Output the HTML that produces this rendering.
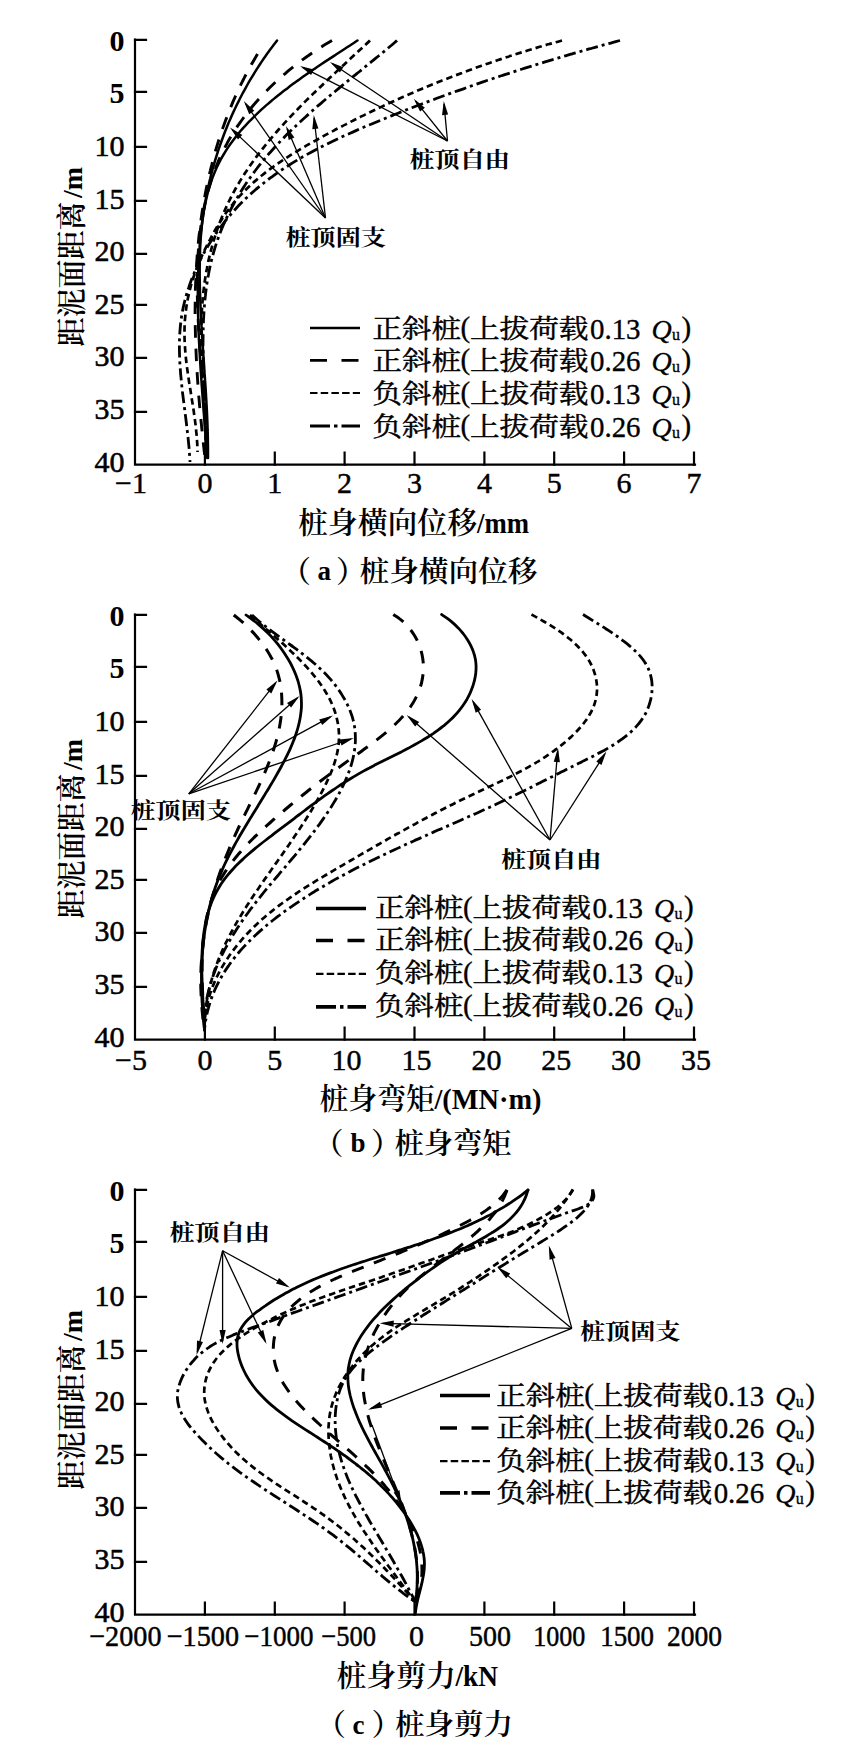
<!DOCTYPE html>
<html lang="zh"><head><meta charset="utf-8"><title>桩身响应曲线</title>
<style>
html,body{margin:0;padding:0;background:#fff}
svg{display:block}
text{font-family:"Liberation Serif", "Noto Serif CJK SC", serif;fill:#000}
path{fill:none;stroke:#000}
.ax{stroke-width:2.2;stroke-linecap:square}
.s0{stroke-width:2.5;stroke-linecap:round}
.s1{stroke-width:2.9;stroke-dasharray:12.5 11}
.s2{stroke-width:2.7;stroke-dasharray:6.5 4}
.s3{stroke-width:2.8;stroke-dasharray:12 4 3 4}
.l0{stroke-width:3}
.l1{stroke-width:3.3;stroke-dasharray:17 14.5}
.l2{stroke-width:2.2;stroke-dasharray:7.5 3.2}
.l3{stroke-width:3.4;stroke-dasharray:20 4 3.5 4}
.ca .l0{stroke-width:2.4}
.ca .l1{stroke-width:2.8}
.ca .l2{stroke-width:2}
.ca .l3{stroke-width:3.2}
.cb .l0{stroke-width:3.5}
.cb .l1{stroke-width:3.7}
.cb .l3{stroke-width:3.7}
.cb .s0{stroke-width:2.8}
.cb .s1{stroke-width:3}
.al{stroke-width:1.3}
.ah{fill:#000;stroke:none}
.yl{font-weight:700}
.ym{font-weight:400;stroke:#000;stroke-width:.55}
.xl{font-weight:400;stroke:#000;stroke-width:.45}
.tt{font-weight:600}
.ttl{font-weight:700}
.cp{font-weight:600}
.lg{font-weight:400;stroke:#000;stroke-width:.45}
.lgl{font-weight:400;stroke:#000;stroke-width:.35}
.lgi{font-style:italic;font-weight:400;stroke:#000;stroke-width:.3}
.lgu{font-weight:400;stroke:#000;stroke-width:.3}
.lb{font-weight:700}
</style></head>
<body>
<svg width="856" height="1751" viewBox="0 0 856 1751">
<rect width="856" height="1751" fill="#fff" stroke="none"/>
<g class="ca">
<path class="ax" d="M135.0 39.7 V464.7 H695.0"/>
<path class="ax" d="M135.0 39.8 h11M135.0 91.8 h11M135.0 146.8 h11M135.0 200.9 h11M135.0 253.8 h11M135.0 304.9 h11M135.0 357.8 h11M135.0 411.8 h11M204.9 464.7 v-12M274.8 464.7 v-12M344.6 464.7 v-12M414.5 464.7 v-12M484.4 464.7 v-12M554.2 464.7 v-12M624.1 464.7 v-12M694.0 464.7 v-12"/>
<text x="124.5" y="50.7" font-size="30" text-anchor="end" class="yl">0</text>
<text x="124.5" y="103.3" font-size="30" text-anchor="end" class="yl">5</text>
<text x="124.5" y="155.9" font-size="30" text-anchor="end" class="ym">10</text>
<text x="124.5" y="208.5" font-size="30" text-anchor="end" class="ym">15</text>
<text x="124.5" y="261.1" font-size="30" text-anchor="end" class="ym">20</text>
<text x="124.5" y="313.7" font-size="30" text-anchor="end" class="ym">25</text>
<text x="124.5" y="366.3" font-size="30" text-anchor="end" class="ym">30</text>
<text x="124.5" y="418.9" font-size="30" text-anchor="end" class="ym">35</text>
<text x="124.5" y="471.5" font-size="30" text-anchor="end" class="ym">40</text>
<text x="131.0" y="493.0" font-size="30" text-anchor="middle" class="xl">−1</text>
<text x="204.9" y="493.0" font-size="30" text-anchor="middle" class="xl">0</text>
<text x="274.8" y="493.0" font-size="30" text-anchor="middle" class="xl">1</text>
<text x="344.6" y="493.0" font-size="30" text-anchor="middle" class="xl">2</text>
<text x="414.5" y="493.0" font-size="30" text-anchor="middle" class="xl">3</text>
<text x="484.4" y="493.0" font-size="30" text-anchor="middle" class="xl">4</text>
<text x="554.2" y="493.0" font-size="30" text-anchor="middle" class="xl">5</text>
<text x="624.1" y="493.0" font-size="30" text-anchor="middle" class="xl">6</text>
<text x="694.0" y="493.0" font-size="30" text-anchor="middle" class="xl">7</text>
<text transform="translate(81.5 346.5) rotate(-90)" font-size="29.5" class="tt" textLength="145" lengthAdjust="spacingAndGlyphs">距泥面距离</text>
<text transform="translate(81.5 198.0) rotate(-90)" font-size="28" class="ttl">/m</text>
<path class="s0" d="M277.0 40.5C276.3 41.5 274.1 44.3 272.7 46.2C271.2 48.1 269.8 50.0 268.4 52.0C267.0 53.9 265.7 55.8 264.3 57.8C263.0 59.7 261.7 61.7 260.3 63.7C259.0 65.6 257.8 67.6 256.5 69.6C255.2 71.6 254.0 73.6 252.8 75.6C251.5 77.7 250.3 79.7 249.1 81.7C248.0 83.7 246.8 85.8 245.7 87.8C244.5 89.9 243.4 92.0 242.3 94.0C241.2 96.1 240.1 98.2 239.1 100.3C238.0 102.3 237.0 104.4 236.0 106.5C235.0 108.7 234.0 110.8 233.0 112.9C232.0 115.0 231.1 117.1 230.2 119.3C229.2 121.4 228.3 123.5 227.4 125.7C226.6 127.9 225.7 130.0 224.8 132.2C224.0 134.3 223.2 136.5 222.4 138.7C221.6 140.9 220.8 143.1 220.0 145.3C219.3 147.4 218.5 149.6 217.8 151.9C217.1 154.1 216.4 156.3 215.7 158.5C215.0 160.7 214.4 162.9 213.8 165.2C213.1 167.4 212.5 169.6 211.9 171.9C211.3 174.1 210.7 176.4 210.2 178.6C209.6 180.9 209.1 183.1 208.6 185.4C208.1 187.6 207.6 189.9 207.1 192.2C206.7 194.4 206.2 196.7 205.8 199.0C205.4 201.3 205.0 203.5 204.6 205.8C204.2 208.1 203.8 210.4 203.5 212.7C203.1 215.0 202.8 217.3 202.5 219.6C202.2 221.9 201.9 224.2 201.6 226.5C201.3 228.8 201.1 231.1 200.8 233.4C200.6 235.8 200.4 238.1 200.1 240.4C199.9 242.7 199.7 245.0 199.6 247.4C199.4 249.7 199.2 252.0 199.1 254.4C198.9 256.7 198.8 259.0 198.7 261.4C198.6 263.7 198.4 266.0 198.4 268.4C198.3 270.7 198.2 273.1 198.1 275.4C198.0 277.7 198.0 280.1 198.0 282.4C197.9 284.8 197.9 287.1 197.9 289.5C197.8 291.8 197.8 294.2 197.8 296.5C197.9 298.9 197.9 301.3 197.9 303.6C197.9 306.0 198.0 308.3 198.0 310.7C198.0 313.0 198.1 315.4 198.2 317.7C198.2 320.1 198.3 322.5 198.4 324.8C198.4 327.2 198.5 329.5 198.6 331.9C198.7 334.3 198.8 336.6 198.9 339.0C199.0 341.3 199.2 343.7 199.3 346.0C199.4 348.4 199.5 350.8 199.7 353.1C199.8 355.5 199.9 357.8 200.1 360.2C200.2 362.5 200.4 364.9 200.5 367.3C200.7 369.6 200.8 372.0 201.0 374.3C201.1 376.7 201.3 379.0 201.5 381.4C201.6 383.7 201.8 386.1 202.0 388.4C202.1 390.7 202.3 393.1 202.5 395.4C202.7 397.8 202.8 400.1 203.0 402.4C203.2 404.8 203.4 407.1 203.5 409.4C203.7 411.8 203.9 414.1 204.1 416.4C204.2 418.8 204.4 421.1 204.6 423.4C204.8 425.7 204.9 428.0 205.1 430.4C205.3 432.7 205.5 435.0 205.6 437.3C205.8 439.6 205.9 441.9 206.1 444.2C206.3 446.5 206.4 448.8 206.6 451.1C206.7 453.4 206.9 456.8 207.0 458.0"/>
<path class="s0" d="M357.5 40.5C356.5 41.1 353.7 43.0 351.8 44.2C349.9 45.5 348.0 46.7 346.0 48.0C344.1 49.2 342.2 50.5 340.2 51.8C338.3 53.0 336.4 54.3 334.4 55.6C332.5 56.8 330.5 58.1 328.6 59.4C326.6 60.7 324.6 62.0 322.7 63.3C320.7 64.6 318.8 65.9 316.8 67.2C314.9 68.6 312.9 69.9 311.0 71.2C309.0 72.6 307.0 73.9 305.1 75.3C303.2 76.6 301.2 78.0 299.3 79.4C297.4 80.8 295.4 82.2 293.5 83.6C291.6 85.0 289.7 86.4 287.8 87.9C285.9 89.3 284.0 90.8 282.1 92.2C280.2 93.7 278.4 95.2 276.5 96.7C274.7 98.2 272.8 99.7 271.0 101.3C269.2 102.8 267.4 104.4 265.6 105.9C263.8 107.5 262.0 109.1 260.3 110.7C258.6 112.3 256.8 114.0 255.1 115.6C253.4 117.3 251.7 118.9 250.1 120.6C248.4 122.3 246.8 124.0 245.2 125.8C243.6 127.5 242.1 129.3 240.5 131.0C239.0 132.8 237.5 134.6 236.1 136.4C234.6 138.3 233.2 140.1 231.9 142.0C230.5 143.8 229.2 145.7 227.9 147.6C226.6 149.6 225.4 151.5 224.2 153.5C223.0 155.4 221.9 157.4 220.8 159.4C219.7 161.4 218.7 163.5 217.7 165.5C216.7 167.6 215.8 169.6 214.9 171.8C214.0 173.9 213.2 176.0 212.4 178.1C211.6 180.3 210.9 182.4 210.2 184.6C209.5 186.8 208.9 189.0 208.2 191.2C207.6 193.4 207.1 195.7 206.5 197.9C206.0 200.2 205.5 202.4 205.1 204.7C204.6 207.0 204.2 209.3 203.8 211.6C203.4 213.9 203.1 216.2 202.8 218.5C202.4 220.8 202.1 223.1 201.9 225.5C201.6 227.8 201.4 230.2 201.2 232.5C201.0 234.9 200.8 237.2 200.6 239.6C200.5 242.0 200.4 244.3 200.2 246.7C200.1 249.1 200.0 251.5 200.0 253.8C199.9 256.2 199.8 258.6 199.8 261.0C199.8 263.3 199.7 265.7 199.7 268.1C199.7 270.5 199.7 272.9 199.7 275.2C199.7 277.6 199.8 280.0 199.8 282.3C199.8 284.7 199.9 287.1 199.9 289.4C200.0 291.8 200.1 294.1 200.2 296.5C200.2 298.9 200.3 301.2 200.4 303.6C200.5 305.9 200.6 308.3 200.7 310.6C200.8 313.0 200.9 315.3 201.1 317.7C201.2 320.0 201.3 322.4 201.4 324.7C201.6 327.1 201.7 329.4 201.8 331.8C202.0 334.1 202.1 336.5 202.3 338.8C202.4 341.1 202.6 343.5 202.7 345.8C202.9 348.2 203.1 350.5 203.2 352.8C203.4 355.2 203.5 357.5 203.7 359.8C203.9 362.2 204.0 364.5 204.2 366.9C204.3 369.2 204.5 371.5 204.6 373.9C204.8 376.2 205.0 378.5 205.1 380.9C205.3 383.2 205.4 385.5 205.6 387.9C205.7 390.2 205.9 392.5 206.0 394.9C206.1 397.2 206.3 399.5 206.4 401.9C206.5 404.2 206.7 406.5 206.8 408.9C206.9 411.2 207.0 413.5 207.1 415.9C207.2 418.2 207.3 420.5 207.4 422.9C207.5 425.2 207.6 427.6 207.6 429.9C207.7 432.2 207.8 434.6 207.8 436.9C207.9 439.3 207.9 441.6 207.9 443.9C208.0 446.3 208.0 448.6 208.0 451.0C208.0 453.3 208.0 456.8 208.0 458.0"/>
<path class="s1" d="M257.5 54.0C256.9 55.0 255.1 58.1 253.9 60.2C252.7 62.2 251.5 64.3 250.4 66.4C249.2 68.5 248.1 70.6 247.0 72.7C245.8 74.8 244.7 76.9 243.7 79.0C242.6 81.1 241.6 83.2 240.5 85.3C239.5 87.5 238.5 89.6 237.5 91.7C236.5 93.9 235.5 96.0 234.6 98.2C233.6 100.3 232.7 102.5 231.8 104.6C230.9 106.8 230.0 108.9 229.1 111.1C228.3 113.3 227.4 115.5 226.6 117.7C225.8 119.8 225.0 122.0 224.2 124.2C223.4 126.4 222.6 128.6 221.8 130.8C221.1 133.0 220.3 135.2 219.6 137.5C218.9 139.7 218.2 141.9 217.5 144.1C216.8 146.4 216.2 148.6 215.5 150.8C214.9 153.1 214.3 155.3 213.6 157.5C213.0 159.8 212.4 162.0 211.9 164.3C211.3 166.5 210.7 168.8 210.2 171.1C209.6 173.3 209.1 175.6 208.6 177.9C208.1 180.1 207.6 182.4 207.1 184.7C206.6 187.0 206.2 189.3 205.7 191.5C205.3 193.8 204.9 196.1 204.4 198.4C204.0 200.7 203.6 203.0 203.2 205.3C202.9 207.6 202.5 209.9 202.1 212.2C201.8 214.5 201.5 216.8 201.1 219.1C200.8 221.4 200.5 223.8 200.2 226.1C199.9 228.4 199.6 230.7 199.4 233.0C199.1 235.4 198.8 237.7 198.6 240.0C198.4 242.3 198.1 244.7 197.9 247.0C197.7 249.3 197.5 251.7 197.3 254.0C197.1 256.3 197.0 258.7 196.8 261.0C196.6 263.4 196.5 265.7 196.4 268.1C196.2 270.4 196.1 272.7 196.0 275.1C195.9 277.4 195.8 279.8 195.7 282.1C195.6 284.5 195.5 286.8 195.4 289.2C195.4 291.5 195.3 293.9 195.3 296.2C195.2 298.6 195.2 301.0 195.2 303.3C195.1 305.7 195.1 308.0 195.1 310.4C195.1 312.7 195.1 315.1 195.1 317.5C195.2 319.8 195.2 322.2 195.2 324.5C195.3 326.9 195.3 329.2 195.4 331.6C195.4 334.0 195.5 336.3 195.5 338.7C195.6 341.0 195.7 343.4 195.8 345.8C195.9 348.1 196.0 350.5 196.1 352.8C196.2 355.2 196.3 357.6 196.4 359.9C196.5 362.3 196.7 364.6 196.8 367.0C196.9 369.3 197.1 371.7 197.2 374.0C197.4 376.4 197.5 378.7 197.7 381.1C197.8 383.4 198.0 385.8 198.2 388.1C198.4 390.5 198.6 392.8 198.7 395.2C198.9 397.5 199.1 399.9 199.3 402.2C199.5 404.6 199.7 406.9 199.9 409.2C200.2 411.6 200.4 413.9 200.6 416.2C200.8 418.6 201.0 420.9 201.3 423.2C201.5 425.6 201.7 427.9 202.0 430.2C202.2 432.5 202.5 434.9 202.7 437.2C202.9 439.5 203.2 441.8 203.4 444.1C203.7 446.5 204.0 448.8 204.2 451.1C204.5 453.4 204.9 456.8 205.0 458.0"/>
<path class="s1" d="M332.0 40.5C331.0 41.1 328.0 42.9 325.9 44.1C323.9 45.3 321.9 46.6 319.9 47.9C317.9 49.1 315.9 50.4 314.0 51.7C312.0 53.1 310.0 54.4 308.1 55.8C306.1 57.1 304.2 58.5 302.3 59.9C300.4 61.4 298.5 62.8 296.6 64.2C294.7 65.7 292.8 67.2 291.0 68.7C289.1 70.2 287.3 71.7 285.5 73.3C283.6 74.8 281.8 76.4 280.1 78.0C278.3 79.5 276.5 81.2 274.8 82.8C273.1 84.4 271.3 86.1 269.6 87.7C268.0 89.4 266.3 91.1 264.6 92.8C263.0 94.5 261.4 96.3 259.8 98.0C258.2 99.8 256.6 101.5 255.1 103.3C253.5 105.1 252.0 106.9 250.5 108.8C249.0 110.6 247.5 112.4 246.1 114.3C244.7 116.2 243.3 118.1 241.9 120.0C240.5 121.9 239.2 123.8 237.8 125.7C236.5 127.7 235.2 129.6 234.0 131.6C232.7 133.6 231.5 135.6 230.3 137.6C229.1 139.6 228.0 141.6 226.9 143.7C225.7 145.7 224.7 147.8 223.6 149.9C222.6 152.0 221.6 154.1 220.6 156.2C219.6 158.3 218.7 160.4 217.8 162.5C216.9 164.7 216.0 166.8 215.2 169.0C214.4 171.2 213.6 173.4 212.8 175.6C212.0 177.8 211.3 180.0 210.6 182.2C209.9 184.4 209.3 186.7 208.6 188.9C208.0 191.2 207.4 193.4 206.8 195.7C206.2 198.0 205.7 200.2 205.2 202.5C204.7 204.8 204.2 207.1 203.7 209.4C203.3 211.7 202.8 214.1 202.4 216.4C202.0 218.7 201.7 221.0 201.3 223.4C201.0 225.7 200.6 228.1 200.3 230.4C200.0 232.8 199.8 235.1 199.5 237.5C199.3 239.9 199.0 242.2 198.8 244.6C198.6 247.0 198.4 249.4 198.3 251.7C198.1 254.1 197.9 256.5 197.8 258.9C197.7 261.3 197.6 263.7 197.5 266.0C197.4 268.4 197.4 270.8 197.3 273.2C197.3 275.6 197.2 278.0 197.2 280.4C197.2 282.8 197.2 285.2 197.2 287.6C197.2 290.0 197.2 292.4 197.3 294.7C197.3 297.1 197.4 299.5 197.5 301.9C197.5 304.3 197.6 306.7 197.7 309.1C197.8 311.5 197.9 313.9 198.0 316.2C198.1 318.6 198.3 321.0 198.4 323.4C198.5 325.8 198.7 328.2 198.8 330.6C198.9 332.9 199.1 335.3 199.3 337.7C199.4 340.1 199.6 342.5 199.8 344.9C199.9 347.2 200.1 349.6 200.3 352.0C200.5 354.4 200.6 356.7 200.8 359.1C201.0 361.5 201.2 363.9 201.4 366.2C201.6 368.6 201.7 371.0 201.9 373.4C202.1 375.7 202.3 378.1 202.5 380.5C202.7 382.8 202.8 385.2 203.0 387.6C203.2 389.9 203.4 392.3 203.5 394.7C203.7 397.0 203.9 399.4 204.0 401.7C204.2 404.1 204.3 406.5 204.5 408.8C204.6 411.2 204.8 413.5 204.9 415.9C205.0 418.2 205.1 420.6 205.3 422.9C205.4 425.3 205.5 427.6 205.5 430.0C205.6 432.3 205.7 434.7 205.8 437.0C205.8 439.3 205.9 441.7 205.9 444.0C206.0 446.3 206.0 448.7 206.0 451.0C206.0 453.3 206.0 456.8 206.0 458.0"/>
<path class="s2" d="M370.0 40.5C369.2 41.3 366.7 43.6 365.0 45.1C363.4 46.7 361.7 48.3 360.0 49.8C358.3 51.4 356.7 52.9 355.0 54.5C353.3 56.1 351.6 57.6 349.9 59.2C348.2 60.8 346.5 62.3 344.8 63.9C343.1 65.5 341.3 67.1 339.6 68.7C337.9 70.3 336.2 71.9 334.5 73.5C332.8 75.1 331.1 76.7 329.3 78.3C327.6 79.9 325.9 81.5 324.2 83.1C322.5 84.8 320.8 86.4 319.1 88.0C317.4 89.7 315.7 91.3 314.0 92.9C312.3 94.6 310.6 96.2 308.9 97.9C307.2 99.6 305.5 101.2 303.8 102.9C302.2 104.6 300.5 106.3 298.8 108.0C297.2 109.7 295.5 111.4 293.9 113.1C292.3 114.8 290.6 116.5 289.0 118.2C287.4 120.0 285.8 121.7 284.2 123.4C282.6 125.2 281.0 126.9 279.4 128.7C277.9 130.4 276.3 132.2 274.8 134.0C273.2 135.8 271.7 137.6 270.2 139.4C268.7 141.2 267.2 143.0 265.7 144.8C264.3 146.6 262.8 148.5 261.4 150.3C259.9 152.2 258.5 154.0 257.1 155.9C255.7 157.8 254.3 159.6 253.0 161.5C251.6 163.4 250.3 165.3 249.0 167.2C247.7 169.2 246.4 171.1 245.1 173.0C243.8 175.0 242.6 176.9 241.4 178.9C240.2 180.8 239.0 182.8 237.8 184.8C236.7 186.8 235.5 188.8 234.4 190.8C233.3 192.9 232.2 194.9 231.2 196.9C230.1 199.0 229.1 201.0 228.1 203.1C227.1 205.2 226.2 207.3 225.2 209.4C224.3 211.5 223.4 213.6 222.5 215.7C221.6 217.8 220.8 220.0 220.0 222.1C219.2 224.3 218.4 226.4 217.6 228.6C216.8 230.8 216.1 233.0 215.4 235.2C214.7 237.4 214.0 239.6 213.3 241.8C212.7 244.0 212.1 246.2 211.5 248.4C210.9 250.7 210.3 252.9 209.8 255.2C209.2 257.4 208.7 259.7 208.2 261.9C207.7 264.2 207.3 266.5 206.9 268.7C206.4 271.0 206.0 273.3 205.6 275.6C205.3 277.9 204.9 280.2 204.6 282.5C204.3 284.8 204.0 287.1 203.7 289.4C203.4 291.8 203.2 294.1 203.0 296.4C202.7 298.7 202.6 301.1 202.4 303.4C202.2 305.7 202.1 308.1 201.9 310.4C201.8 312.8 201.7 315.1 201.6 317.5C201.5 319.8 201.5 322.2 201.4 324.5C201.4 326.9 201.4 329.3 201.3 331.6C201.3 334.0 201.3 336.3 201.4 338.7C201.4 341.1 201.4 343.4 201.4 345.8C201.5 348.2 201.5 350.6 201.6 352.9C201.7 355.3 201.8 357.7 201.8 360.0C201.9 362.4 202.0 364.8 202.1 367.1C202.2 369.5 202.4 371.9 202.5 374.2C202.6 376.6 202.7 379.0 202.8 381.3C203.0 383.7 203.1 386.1 203.2 388.4C203.4 390.8 203.5 393.2 203.6 395.5C203.8 397.9 203.9 400.2 204.0 402.6C204.2 404.9 204.3 407.3 204.4 409.6C204.5 411.9 204.7 414.3 204.8 416.6C204.9 418.9 205.0 421.3 205.1 423.6C205.2 425.9 205.3 428.2 205.4 430.5C205.5 432.9 205.6 435.2 205.7 437.5C205.7 439.8 205.8 442.1 205.9 444.4C205.9 446.6 205.9 448.9 206.0 451.2C206.0 453.5 206.0 456.9 206.0 458.0"/>
<path class="s3" d="M397.0 40.5C396.1 41.3 393.5 43.5 391.8 45.0C390.0 46.4 388.3 47.9 386.5 49.4C384.8 50.9 383.0 52.3 381.2 53.8C379.4 55.3 377.6 56.7 375.8 58.2C374.0 59.7 372.2 61.1 370.4 62.6C368.6 64.1 366.8 65.6 365.0 67.0C363.2 68.5 361.3 70.0 359.5 71.5C357.7 72.9 355.9 74.4 354.0 75.9C352.2 77.4 350.4 78.9 348.5 80.4C346.7 81.9 344.9 83.3 343.0 84.8C341.2 86.3 339.4 87.8 337.6 89.3C335.7 90.9 333.9 92.4 332.1 93.9C330.3 95.4 328.4 96.9 326.6 98.5C324.8 100.0 323.0 101.5 321.2 103.1C319.4 104.6 317.6 106.2 315.8 107.7C314.0 109.3 312.3 110.8 310.5 112.4C308.7 114.0 306.9 115.6 305.2 117.2C303.4 118.8 301.7 120.4 300.0 122.0C298.2 123.6 296.5 125.2 294.8 126.9C293.1 128.5 291.4 130.1 289.7 131.8C288.0 133.4 286.4 135.1 284.7 136.8C283.1 138.5 281.4 140.2 279.8 141.9C278.2 143.6 276.6 145.3 275.0 147.0C273.4 148.8 271.8 150.5 270.3 152.3C268.7 154.0 267.2 155.8 265.7 157.6C264.2 159.4 262.7 161.2 261.2 163.0C259.8 164.8 258.3 166.6 256.9 168.5C255.5 170.3 254.1 172.2 252.7 174.1C251.3 176.0 250.0 177.9 248.6 179.8C247.3 181.7 246.0 183.6 244.7 185.6C243.4 187.5 242.2 189.5 241.0 191.4C239.7 193.4 238.5 195.4 237.4 197.4C236.2 199.4 235.0 201.4 233.9 203.5C232.8 205.5 231.7 207.5 230.7 209.6C229.6 211.7 228.6 213.7 227.6 215.8C226.6 217.9 225.6 220.0 224.7 222.1C223.7 224.2 222.8 226.3 221.9 228.5C221.0 230.6 220.2 232.8 219.4 234.9C218.6 237.1 217.8 239.3 217.0 241.4C216.3 243.6 215.6 245.8 214.9 248.0C214.2 250.2 213.6 252.4 213.0 254.7C212.4 256.9 211.8 259.1 211.2 261.4C210.7 263.6 210.2 265.9 209.7 268.2C209.2 270.4 208.8 272.7 208.4 275.0C207.9 277.3 207.6 279.6 207.2 281.9C206.8 284.2 206.5 286.5 206.2 288.8C205.9 291.1 205.6 293.4 205.4 295.7C205.1 298.1 204.9 300.4 204.7 302.7C204.5 305.1 204.3 307.4 204.1 309.8C203.9 312.1 203.8 314.5 203.7 316.8C203.5 319.2 203.4 321.6 203.4 323.9C203.3 326.3 203.2 328.7 203.2 331.0C203.1 333.4 203.1 335.8 203.1 338.2C203.0 340.5 203.0 342.9 203.0 345.3C203.1 347.7 203.1 350.1 203.1 352.5C203.1 354.8 203.2 357.2 203.2 359.6C203.3 362.0 203.4 364.4 203.4 366.8C203.5 369.1 203.6 371.5 203.7 373.9C203.8 376.3 203.9 378.7 204.0 381.1C204.1 383.4 204.2 385.8 204.3 388.2C204.4 390.6 204.5 392.9 204.6 395.3C204.7 397.7 204.9 400.0 205.0 402.4C205.1 404.8 205.2 407.1 205.3 409.5C205.4 411.8 205.6 414.2 205.7 416.5C205.8 418.9 205.9 421.2 206.0 423.5C206.1 425.9 206.2 428.2 206.3 430.5C206.4 432.8 206.5 435.2 206.6 437.5C206.6 439.8 206.7 442.1 206.8 444.4C206.8 446.6 206.9 448.9 206.9 451.2C207.0 453.5 207.0 456.9 207.0 458.0"/>
<path class="s2" d="M562.0 40.5C560.9 40.8 557.5 41.7 555.2 42.4C553.0 43.0 550.7 43.7 548.5 44.3C546.2 44.9 544.0 45.6 541.7 46.3C539.5 46.9 537.2 47.6 535.0 48.3C532.8 48.9 530.5 49.6 528.3 50.3C526.0 51.0 523.8 51.7 521.6 52.4C519.3 53.1 517.1 53.8 514.9 54.5C512.7 55.2 510.4 55.9 508.2 56.7C506.0 57.4 503.8 58.1 501.5 58.9C499.3 59.6 497.1 60.4 494.9 61.1C492.7 61.9 490.5 62.6 488.3 63.4C486.0 64.2 483.8 64.9 481.6 65.7C479.4 66.5 477.2 67.3 475.0 68.1C472.8 68.9 470.6 69.7 468.4 70.5C466.2 71.3 464.0 72.1 461.9 73.0C459.7 73.8 457.5 74.6 455.3 75.4C453.1 76.3 450.9 77.1 448.7 78.0C446.6 78.8 444.4 79.7 442.2 80.5C440.0 81.4 437.9 82.3 435.7 83.2C433.5 84.0 431.4 84.9 429.2 85.8C427.0 86.7 424.9 87.6 422.7 88.5C420.6 89.4 418.4 90.3 416.2 91.2C414.1 92.2 411.9 93.1 409.8 94.0C407.6 94.9 405.5 95.9 403.4 96.8C401.2 97.8 399.1 98.7 396.9 99.7C394.8 100.7 392.7 101.6 390.5 102.6C388.4 103.6 386.3 104.6 384.2 105.5C382.0 106.5 379.9 107.5 377.8 108.5C375.7 109.5 373.6 110.5 371.5 111.5C369.3 112.6 367.2 113.6 365.1 114.6C363.0 115.6 360.9 116.7 358.8 117.7C356.7 118.8 354.6 119.8 352.5 120.9C350.4 121.9 348.3 123.0 346.3 124.1C344.2 125.1 342.1 126.2 340.0 127.3C337.9 128.4 335.8 129.5 333.8 130.6C331.7 131.7 329.6 132.8 327.6 133.9C325.5 135.0 323.4 136.1 321.4 137.3C319.3 138.4 317.2 139.5 315.2 140.7C313.1 141.8 311.1 143.0 309.0 144.1C307.0 145.3 305.0 146.5 302.9 147.7C300.9 148.8 298.9 150.0 296.9 151.3C294.9 152.5 292.9 153.7 290.9 154.9C288.9 156.2 287.0 157.4 285.0 158.7C283.1 160.0 281.1 161.3 279.2 162.6C277.3 163.9 275.4 165.2 273.5 166.6C271.6 167.9 269.7 169.3 267.9 170.7C266.0 172.1 264.2 173.5 262.4 175.0C260.6 176.4 258.8 177.9 257.1 179.4C255.3 180.9 253.6 182.4 251.9 183.9C250.2 185.5 248.5 187.1 246.8 188.7C245.2 190.3 243.6 191.9 242.0 193.6C240.4 195.3 238.8 197.0 237.3 198.7C235.7 200.4 234.2 202.2 232.8 204.0C231.3 205.8 229.9 207.6 228.5 209.5C227.1 211.4 225.7 213.3 224.4 215.3C223.1 217.2 221.8 219.2 220.5 221.2C219.3 223.2 218.0 225.2 216.8 227.3C215.6 229.3 214.4 231.4 213.3 233.5C212.1 235.5 211.0 237.6 209.9 239.8C208.8 241.9 207.7 244.0 206.6 246.1C205.5 248.2 204.5 250.4 203.5 252.5C202.5 254.6 201.5 256.8 200.5 259.0C199.6 261.1 198.7 263.3 197.8 265.5C196.9 267.6 196.1 269.8 195.3 272.0C194.5 274.2 193.8 276.4 193.0 278.6C192.3 280.8 191.7 283.1 191.0 285.3C190.4 287.5 189.8 289.8 189.3 292.0C188.8 294.2 188.3 296.5 187.8 298.7C187.4 301.0 187.0 303.3 186.6 305.5C186.3 307.8 185.9 310.1 185.7 312.4C185.4 314.6 185.2 316.9 185.0 319.2C184.8 321.5 184.7 323.8 184.6 326.1C184.5 328.4 184.5 330.7 184.5 333.0C184.5 335.4 184.5 337.7 184.6 340.0C184.7 342.3 184.8 344.6 185.0 347.0C185.1 349.3 185.3 351.6 185.5 354.0C185.7 356.3 186.0 358.7 186.2 361.0C186.5 363.3 186.8 365.7 187.1 368.0C187.4 370.4 187.8 372.7 188.1 375.1C188.4 377.4 188.8 379.8 189.1 382.1C189.5 384.5 189.9 386.8 190.3 389.2C190.6 391.5 191.0 393.9 191.4 396.2C191.7 398.6 192.1 400.9 192.5 403.3C192.9 405.6 193.2 407.9 193.6 410.3C193.9 412.6 194.2 415.0 194.6 417.3C194.9 419.6 195.2 422.0 195.5 424.3C195.8 426.6 196.0 428.9 196.2 431.3C196.5 433.6 196.7 435.9 196.9 438.2C197.0 440.5 197.2 442.8 197.3 445.1C197.4 447.4 197.5 450.9 197.5 452.0"/>
<path class="s3" d="M620.0 40.5C618.9 40.8 615.4 41.7 613.1 42.3C610.8 43.0 608.6 43.6 606.3 44.2C604.0 44.8 601.7 45.5 599.4 46.1C597.2 46.7 594.9 47.4 592.6 48.0C590.3 48.6 588.1 49.3 585.8 49.9C583.5 50.6 581.3 51.2 579.0 51.9C576.7 52.5 574.5 53.2 572.2 53.8C569.9 54.5 567.7 55.2 565.4 55.8C563.1 56.5 560.9 57.1 558.6 57.8C556.4 58.5 554.1 59.2 551.9 59.8C549.6 60.5 547.4 61.2 545.1 61.9C542.9 62.6 540.6 63.3 538.4 64.0C536.1 64.7 533.9 65.4 531.6 66.1C529.4 66.8 527.2 67.5 524.9 68.2C522.7 68.9 520.4 69.6 518.2 70.3C516.0 71.0 513.7 71.7 511.5 72.5C509.3 73.2 507.0 73.9 504.8 74.6C502.6 75.4 500.3 76.1 498.1 76.9C495.9 77.6 493.7 78.3 491.4 79.1C489.2 79.8 487.0 80.6 484.8 81.3C482.5 82.1 480.3 82.9 478.1 83.6C475.9 84.4 473.7 85.2 471.4 85.9C469.2 86.7 467.0 87.5 464.8 88.3C462.6 89.0 460.4 89.8 458.2 90.6C455.9 91.4 453.7 92.2 451.5 93.0C449.3 93.8 447.1 94.6 444.9 95.4C442.7 96.2 440.5 97.0 438.3 97.8C436.1 98.6 433.9 99.5 431.7 100.3C429.4 101.1 427.2 101.9 425.0 102.8C422.8 103.6 420.6 104.4 418.4 105.3C416.2 106.1 414.0 107.0 411.8 107.8C409.6 108.7 407.4 109.5 405.2 110.4C403.0 111.3 400.8 112.1 398.7 113.0C396.5 113.9 394.3 114.7 392.1 115.6C389.9 116.5 387.7 117.4 385.5 118.3C383.3 119.2 381.1 120.1 378.9 121.0C376.7 121.9 374.5 122.8 372.3 123.7C370.1 124.6 368.0 125.5 365.8 126.4C363.6 127.4 361.4 128.3 359.2 129.2C357.0 130.2 354.9 131.1 352.7 132.1C350.5 133.0 348.4 134.0 346.2 135.0C344.0 135.9 341.9 136.9 339.7 137.9C337.6 138.9 335.5 139.9 333.3 141.0C331.2 142.0 329.1 143.0 326.9 144.1C324.8 145.1 322.7 146.2 320.6 147.2C318.5 148.3 316.4 149.4 314.4 150.5C312.3 151.6 310.2 152.7 308.1 153.9C306.1 155.0 304.0 156.1 302.0 157.3C300.0 158.5 298.0 159.7 295.9 160.9C293.9 162.1 291.9 163.3 290.0 164.5C288.0 165.8 286.0 167.1 284.1 168.3C282.1 169.6 280.2 170.9 278.3 172.2C276.3 173.6 274.4 174.9 272.6 176.3C270.7 177.7 268.8 179.0 267.0 180.5C265.1 181.9 263.3 183.3 261.5 184.8C259.6 186.2 257.9 187.7 256.1 189.2C254.3 190.8 252.6 192.3 250.8 193.9C249.1 195.4 247.4 197.0 245.7 198.6C244.0 200.3 242.3 201.9 240.7 203.6C239.0 205.3 237.4 207.0 235.8 208.7C234.2 210.4 232.7 212.2 231.1 214.0C229.6 215.8 228.0 217.6 226.5 219.4C225.1 221.3 223.6 223.1 222.1 225.0C220.7 226.9 219.3 228.8 217.9 230.8C216.5 232.7 215.2 234.7 213.9 236.7C212.5 238.6 211.2 240.6 210.0 242.7C208.7 244.7 207.5 246.7 206.3 248.8C205.1 250.8 204.0 252.9 202.8 255.0C201.7 257.1 200.6 259.2 199.6 261.3C198.5 263.4 197.5 265.6 196.5 267.7C195.5 269.9 194.6 272.0 193.7 274.2C192.8 276.4 191.9 278.5 191.1 280.7C190.3 282.9 189.5 285.1 188.8 287.4C188.0 289.6 187.3 291.8 186.7 294.0C186.0 296.3 185.4 298.5 184.8 300.8C184.2 303.0 183.7 305.3 183.2 307.6C182.8 309.8 182.3 312.1 181.9 314.4C181.5 316.7 181.2 319.0 180.9 321.3C180.6 323.6 180.4 325.9 180.2 328.2C180.0 330.5 179.8 332.8 179.7 335.2C179.6 337.5 179.5 339.8 179.4 342.2C179.4 344.5 179.4 346.8 179.4 349.2C179.4 351.5 179.5 353.9 179.6 356.2C179.6 358.6 179.7 360.9 179.9 363.3C180.0 365.6 180.2 368.0 180.4 370.4C180.5 372.7 180.7 375.1 181.0 377.5C181.2 379.8 181.4 382.2 181.7 384.6C181.9 386.9 182.2 389.3 182.4 391.7C182.7 394.0 183.0 396.4 183.3 398.8C183.6 401.1 183.9 403.5 184.2 405.9C184.5 408.2 184.8 410.6 185.1 412.9C185.4 415.3 185.7 417.7 186.0 420.0C186.3 422.4 186.6 424.7 186.8 427.1C187.1 429.4 187.4 431.8 187.7 434.1C187.9 436.5 188.2 438.8 188.4 441.1C188.6 443.5 188.9 445.8 189.1 448.1C189.3 450.5 189.4 452.8 189.6 455.1C189.8 457.4 189.9 460.8 190.0 462.0"/>
<path class="al" d="M325.5 218.0 L245.5 103.5"/>
<path class="ah" d="M243.8 101.0 L254.3 110.7 L249.2 114.3 Z"/>
<path class="al" d="M325.5 218.0 L232.2 129.6"/>
<path class="ah" d="M230.0 127.5 L242.3 134.9 L238.0 139.4 Z"/>
<path class="al" d="M325.5 218.0 L287.2 128.8"/>
<path class="ah" d="M286.0 126.0 L294.4 137.6 L288.7 140.1 Z"/>
<path class="al" d="M325.5 218.0 L314.1 118.0"/>
<path class="ah" d="M313.8 115.0 L318.4 128.6 L312.3 129.3 Z"/>
<path class="al" d="M447.5 141.0 L444.0 104.0"/>
<path class="ah" d="M443.8 101.0 L448.1 114.6 L442.0 115.2 Z"/>
<path class="al" d="M447.5 141.0 L415.6 101.1"/>
<path class="ah" d="M413.8 98.8 L424.9 107.8 L420.1 111.6 Z"/>
<path class="al" d="M447.5 141.0 L302.7 67.4"/>
<path class="ah" d="M300.0 66.0 L313.9 69.6 L311.1 75.1 Z"/>
<path class="al" d="M447.5 141.0 L332.5 63.7"/>
<path class="ah" d="M330.0 62.0 L343.3 67.2 L339.9 72.4 Z"/>
<text x="285.5" y="244.5" font-size="22" textLength="100.5" lengthAdjust="spacingAndGlyphs" class="lb">桩顶固支</text>
<text x="409.5" y="167.0" font-size="22" textLength="100.5" lengthAdjust="spacingAndGlyphs" class="lb">桩顶自由</text>
<path class="l0" d="M310.0 328.0 H360.0"/>
<text x="372.5" y="337.6" font-size="26" textLength="88.5" lengthAdjust="spacingAndGlyphs" class="lg">正斜桩</text>
<text x="460.5" y="337.1" font-size="29" class="lgl">(</text>
<text x="470.0" y="337.6" font-size="26" textLength="118.5" lengthAdjust="spacingAndGlyphs" class="lg">上拔荷载</text>
<text x="590.0" y="338.6" font-size="29" textLength="50.5" lengthAdjust="spacingAndGlyphs" class="lgl">0.13</text>
<text x="651.5" y="338.6" font-size="28" class="lgi">Q</text>
<text x="672.0" y="339.6" font-size="16" class="lgu">u</text>
<text x="681.5" y="336.6" font-size="29" class="lgl">)</text>
<path class="l1" d="M310.0 360.3 H360.0"/>
<text x="372.5" y="369.9" font-size="26" textLength="88.5" lengthAdjust="spacingAndGlyphs" class="lg">正斜桩</text>
<text x="460.5" y="369.4" font-size="29" class="lgl">(</text>
<text x="470.0" y="369.9" font-size="26" textLength="118.5" lengthAdjust="spacingAndGlyphs" class="lg">上拔荷载</text>
<text x="590.0" y="370.9" font-size="29" textLength="50.5" lengthAdjust="spacingAndGlyphs" class="lgl">0.26</text>
<text x="651.5" y="370.9" font-size="28" class="lgi">Q</text>
<text x="672.0" y="371.9" font-size="16" class="lgu">u</text>
<text x="681.5" y="368.9" font-size="29" class="lgl">)</text>
<path class="l2" d="M310.0 393.0 H360.0"/>
<text x="372.5" y="402.6" font-size="26" textLength="88.5" lengthAdjust="spacingAndGlyphs" class="lg">负斜桩</text>
<text x="460.5" y="402.1" font-size="29" class="lgl">(</text>
<text x="470.0" y="402.6" font-size="26" textLength="118.5" lengthAdjust="spacingAndGlyphs" class="lg">上拔荷载</text>
<text x="590.0" y="403.6" font-size="29" textLength="50.5" lengthAdjust="spacingAndGlyphs" class="lgl">0.13</text>
<text x="651.5" y="403.6" font-size="28" class="lgi">Q</text>
<text x="672.0" y="404.6" font-size="16" class="lgu">u</text>
<text x="681.5" y="401.6" font-size="29" class="lgl">)</text>
<path class="l3" d="M310.0 426.0 H360.0"/>
<text x="372.5" y="435.6" font-size="26" textLength="88.5" lengthAdjust="spacingAndGlyphs" class="lg">负斜桩</text>
<text x="460.5" y="435.1" font-size="29" class="lgl">(</text>
<text x="470.0" y="435.6" font-size="26" textLength="118.5" lengthAdjust="spacingAndGlyphs" class="lg">上拔荷载</text>
<text x="590.0" y="436.6" font-size="29" textLength="50.5" lengthAdjust="spacingAndGlyphs" class="lgl">0.26</text>
<text x="651.5" y="436.6" font-size="28" class="lgi">Q</text>
<text x="672.0" y="437.6" font-size="16" class="lgu">u</text>
<text x="681.5" y="434.6" font-size="29" class="lgl">)</text>
<text x="298.0" y="532.5" font-size="29.5" textLength="179.0" lengthAdjust="spacingAndGlyphs" class="tt">桩身横向位移</text>
<text x="477.0" y="532.5" font-size="29" textLength="52.0" lengthAdjust="spacingAndGlyphs" class="ttl">/mm</text>
<text x="281.0" y="581.5" font-size="30" class="cp">（</text>
<text x="317.5" y="579.5" font-size="27" class="ttl">a</text>
<text x="336.0" y="581.5" font-size="30" class="cp">）</text>
<text x="359.5" y="581.5" font-size="29" textLength="178.0" lengthAdjust="spacingAndGlyphs" class="cp">桩身横向位移</text>
</g>
<g class="cb">
<path class="ax" d="M135.0 614.7 V1039.7 H695.0"/>
<path class="ax" d="M135.0 614.8 h11M135.0 666.8 h11M135.0 721.8 h11M135.0 775.9 h11M135.0 828.8 h11M135.0 879.9 h11M135.0 932.8 h11M135.0 986.8 h11M204.9 1039.7 v-12M274.8 1039.7 v-12M344.6 1039.7 v-12M414.5 1039.7 v-12M484.4 1039.7 v-12M554.2 1039.7 v-12M624.1 1039.7 v-12M694.0 1039.7 v-12"/>
<text x="124.5" y="625.7" font-size="30" text-anchor="end" class="yl">0</text>
<text x="124.5" y="678.3" font-size="30" text-anchor="end" class="yl">5</text>
<text x="124.5" y="730.9" font-size="30" text-anchor="end" class="ym">10</text>
<text x="124.5" y="783.5" font-size="30" text-anchor="end" class="ym">15</text>
<text x="124.5" y="836.1" font-size="30" text-anchor="end" class="ym">20</text>
<text x="124.5" y="888.7" font-size="30" text-anchor="end" class="ym">25</text>
<text x="124.5" y="941.3" font-size="30" text-anchor="end" class="ym">30</text>
<text x="124.5" y="993.9" font-size="30" text-anchor="end" class="ym">35</text>
<text x="124.5" y="1046.5" font-size="30" text-anchor="end" class="ym">40</text>
<text x="131.0" y="1070.0" font-size="30" text-anchor="middle" class="xl">−5</text>
<text x="204.9" y="1070.0" font-size="30" text-anchor="middle" class="xl">0</text>
<text x="274.8" y="1070.0" font-size="30" text-anchor="middle" class="xl">5</text>
<text x="346.6" y="1070.0" font-size="30" text-anchor="middle" class="xl">10</text>
<text x="416.5" y="1070.0" font-size="30" text-anchor="middle" class="xl">15</text>
<text x="486.4" y="1070.0" font-size="30" text-anchor="middle" class="xl">20</text>
<text x="556.2" y="1070.0" font-size="30" text-anchor="middle" class="xl">25</text>
<text x="626.1" y="1070.0" font-size="30" text-anchor="middle" class="xl">30</text>
<text x="696.0" y="1070.0" font-size="30" text-anchor="middle" class="xl">35</text>
<text transform="translate(81.5 918.5) rotate(-90)" font-size="29.5" class="tt" textLength="145" lengthAdjust="spacingAndGlyphs">距泥面距离</text>
<text transform="translate(81.5 770.0) rotate(-90)" font-size="28" class="ttl">/m</text>
<path class="s0" d="M246.0 615.0C246.9 615.7 249.8 617.6 251.7 619.0C253.6 620.4 255.4 621.9 257.3 623.4C259.1 624.9 260.9 626.5 262.7 628.1C264.5 629.7 266.2 631.4 267.9 633.1C269.6 634.8 271.3 636.6 272.9 638.4C274.5 640.2 276.1 642.0 277.6 643.9C279.1 645.8 280.6 647.7 282.0 649.7C283.4 651.7 284.8 653.7 286.0 655.7C287.3 657.7 288.6 659.7 289.7 661.8C290.9 663.9 291.9 666.0 292.9 668.1C293.9 670.2 294.9 672.4 295.7 674.5C296.5 676.7 297.3 678.9 298.0 681.0C298.6 683.2 299.2 685.4 299.7 687.6C300.2 689.8 300.6 692.0 300.9 694.3C301.2 696.5 301.3 698.7 301.4 700.9C301.5 703.1 301.5 705.3 301.4 707.6C301.3 709.8 301.0 712.0 300.7 714.2C300.5 716.4 300.1 718.6 299.6 720.8C299.2 723.0 298.6 725.2 298.0 727.5C297.4 729.7 296.7 731.9 296.0 734.0C295.3 736.2 294.5 738.4 293.6 740.6C292.8 742.8 291.9 745.0 290.9 747.1C290.0 749.3 289.0 751.5 287.9 753.6C286.9 755.8 285.8 757.9 284.7 760.1C283.6 762.2 282.5 764.4 281.3 766.5C280.2 768.6 279.0 770.7 277.8 772.8C276.6 774.9 275.4 777.0 274.2 779.1C273.0 781.1 271.8 783.2 270.5 785.3C269.3 787.3 268.1 789.4 266.8 791.4C265.6 793.5 264.3 795.5 263.1 797.5C261.9 799.6 260.6 801.6 259.4 803.6C258.1 805.6 256.9 807.7 255.6 809.7C254.4 811.7 253.1 813.7 251.9 815.7C250.6 817.7 249.4 819.7 248.2 821.7C247.0 823.7 245.8 825.8 244.6 827.8C243.3 829.8 242.2 831.8 241.0 833.8C239.8 835.8 238.6 837.9 237.5 839.9C236.3 841.9 235.2 843.9 234.1 846.0C233.0 848.0 231.9 850.1 230.8 852.1C229.7 854.2 228.7 856.2 227.6 858.3C226.6 860.4 225.6 862.4 224.6 864.5C223.6 866.6 222.7 868.7 221.8 870.9C220.8 873.0 220.0 875.1 219.1 877.2C218.2 879.4 217.4 881.5 216.6 883.7C215.8 885.9 215.0 888.1 214.3 890.3C213.6 892.5 212.9 894.7 212.2 896.9C211.6 899.2 211.0 901.4 210.4 903.7C209.8 905.9 209.2 908.2 208.7 910.5C208.2 912.8 207.7 915.1 207.2 917.4C206.7 919.7 206.3 922.0 205.9 924.4C205.5 926.7 205.1 929.0 204.8 931.4C204.5 933.7 204.1 936.1 203.9 938.4C203.6 940.8 203.3 943.1 203.1 945.5C202.9 947.9 202.6 950.2 202.5 952.6C202.3 955.0 202.1 957.4 202.0 959.7C201.9 962.1 201.8 964.5 201.7 966.9C201.6 969.2 201.6 971.6 201.5 974.0C201.5 976.4 201.5 978.8 201.5 981.1C201.5 983.5 201.5 985.9 201.6 988.2C201.6 990.6 201.7 993.0 201.8 995.3C201.9 997.7 202.0 1000.0 202.1 1002.4C202.3 1004.7 202.4 1007.0 202.6 1009.4C202.7 1011.7 202.9 1014.0 203.1 1016.3C203.3 1018.6 203.5 1020.9 203.8 1023.2C204.0 1025.5 204.4 1028.9 204.5 1030.0"/>
<path class="s1" d="M233.8 615.0C234.6 615.7 237.3 617.7 239.0 619.1C240.8 620.6 242.5 622.1 244.3 623.7C246.0 625.2 247.7 626.9 249.4 628.6C251.0 630.3 252.7 632.0 254.3 633.8C255.9 635.6 257.5 637.5 259.0 639.4C260.6 641.3 262.0 643.2 263.5 645.2C264.9 647.2 266.3 649.2 267.6 651.2C268.9 653.3 270.1 655.4 271.2 657.5C272.4 659.6 273.4 661.7 274.4 663.9C275.3 666.1 276.2 668.3 276.9 670.5C277.7 672.7 278.3 675.0 278.9 677.3C279.5 679.5 280.0 681.8 280.4 684.1C280.8 686.4 281.1 688.7 281.3 691.1C281.6 693.4 281.7 695.7 281.8 698.1C281.9 700.4 281.9 702.7 281.9 705.1C281.8 707.4 281.7 709.7 281.5 712.1C281.3 714.4 281.1 716.7 280.8 719.0C280.5 721.3 280.1 723.6 279.7 725.9C279.3 728.1 278.8 730.4 278.3 732.7C277.8 734.9 277.3 737.2 276.7 739.4C276.1 741.7 275.4 743.9 274.7 746.1C274.1 748.3 273.3 750.5 272.6 752.7C271.8 755.0 271.0 757.2 270.2 759.3C269.4 761.5 268.5 763.7 267.6 765.9C266.7 768.1 265.8 770.3 264.9 772.4C264.0 774.6 263.0 776.8 262.0 778.9C261.1 781.1 260.1 783.2 259.1 785.4C258.1 787.6 257.0 789.7 256.0 791.9C255.0 794.0 253.9 796.2 252.9 798.3C251.8 800.5 250.8 802.6 249.7 804.7C248.7 806.9 247.6 809.0 246.5 811.2C245.5 813.3 244.4 815.5 243.4 817.6C242.3 819.8 241.3 821.9 240.3 824.1C239.2 826.3 238.2 828.4 237.2 830.6C236.2 832.7 235.2 834.9 234.2 837.1C233.3 839.3 232.3 841.4 231.4 843.6C230.4 845.8 229.5 848.0 228.6 850.2C227.7 852.3 226.8 854.5 225.9 856.7C225.1 858.9 224.2 861.1 223.4 863.3C222.5 865.6 221.7 867.8 220.9 870.0C220.1 872.2 219.3 874.4 218.6 876.6C217.8 878.9 217.1 881.1 216.4 883.3C215.7 885.6 215.0 887.8 214.3 890.1C213.6 892.3 213.0 894.6 212.4 896.8C211.7 899.1 211.1 901.4 210.6 903.6C210.0 905.9 209.4 908.2 208.9 910.5C208.4 912.7 207.9 915.0 207.4 917.3C206.9 919.6 206.4 921.9 206.0 924.2C205.6 926.5 205.2 928.8 204.8 931.2C204.4 933.5 204.1 935.8 203.8 938.1C203.4 940.5 203.1 942.8 202.9 945.1C202.6 947.5 202.3 949.8 202.1 952.2C201.9 954.5 201.7 956.9 201.6 959.2C201.4 961.6 201.3 964.0 201.1 966.3C201.0 968.7 200.9 971.0 200.9 973.4C200.8 975.8 200.8 978.1 200.8 980.5C200.8 982.9 200.8 985.2 200.8 987.6C200.9 990.0 201.0 992.3 201.1 994.7C201.2 997.0 201.3 999.4 201.4 1001.8C201.6 1004.1 201.8 1006.5 202.0 1008.9C202.2 1011.2 202.4 1013.6 202.7 1015.9C202.9 1018.3 203.2 1020.6 203.5 1023.0C203.8 1025.3 204.3 1028.8 204.5 1030.0"/>
<path class="s0" d="M441.6 614.5C442.5 615.1 445.4 617.0 447.3 618.4C449.2 619.8 451.1 621.3 452.9 622.9C454.7 624.5 456.5 626.2 458.2 627.9C459.9 629.7 461.5 631.6 463.1 633.5C464.6 635.4 466.0 637.4 467.3 639.5C468.6 641.5 469.9 643.7 470.9 645.8C472.0 648.0 472.9 650.2 473.6 652.4C474.4 654.6 475.0 656.9 475.4 659.2C475.8 661.5 476.0 663.8 476.1 666.1C476.1 668.4 476.0 670.7 475.8 673.0C475.5 675.3 475.1 677.6 474.6 679.9C474.1 682.2 473.4 684.4 472.7 686.6C471.9 688.8 471.1 691.0 470.1 693.1C469.1 695.2 468.1 697.2 467.0 699.2C465.8 701.2 464.6 703.1 463.3 705.0C462.1 706.8 460.7 708.6 459.3 710.4C457.9 712.2 456.4 713.9 454.8 715.5C453.3 717.2 451.7 718.8 450.0 720.3C448.3 721.9 446.6 723.4 444.8 724.9C443.0 726.3 441.2 727.8 439.3 729.2C437.5 730.6 435.6 731.9 433.6 733.3C431.6 734.6 429.7 735.9 427.6 737.2C425.6 738.4 423.5 739.7 421.5 740.9C419.4 742.1 417.3 743.3 415.1 744.5C413.0 745.7 410.9 746.8 408.7 748.0C406.5 749.1 404.3 750.2 402.2 751.4C400.0 752.5 397.8 753.6 395.6 754.7C393.4 755.8 391.2 756.9 389.0 758.0C386.8 759.1 384.6 760.2 382.4 761.3C380.2 762.4 378.0 763.5 375.8 764.6C373.7 765.7 371.5 766.8 369.4 768.0C367.2 769.1 365.1 770.2 363.0 771.4C361.0 772.5 358.9 773.7 356.9 774.9C354.8 776.1 352.8 777.3 350.8 778.5C348.8 779.7 346.8 780.9 344.9 782.2C342.9 783.4 341.0 784.7 339.1 785.9C337.1 787.2 335.2 788.5 333.3 789.8C331.4 791.0 329.6 792.3 327.7 793.7C325.8 795.0 323.9 796.3 322.1 797.6C320.2 799.0 318.4 800.3 316.5 801.6C314.7 803.0 312.8 804.4 311.0 805.7C309.1 807.1 307.3 808.5 305.5 809.9C303.6 811.3 301.8 812.7 299.9 814.1C298.1 815.5 296.2 816.9 294.4 818.3C292.5 819.7 290.7 821.1 288.8 822.6C286.9 824.0 285.0 825.4 283.1 826.9C281.2 828.3 279.3 829.7 277.4 831.2C275.5 832.6 273.6 834.1 271.7 835.6C269.7 837.0 267.8 838.5 265.9 840.0C263.9 841.5 262.0 843.0 260.1 844.5C258.2 846.0 256.3 847.5 254.4 849.1C252.6 850.6 250.7 852.2 248.9 853.8C247.0 855.4 245.2 857.0 243.5 858.6C241.7 860.2 240.0 861.9 238.3 863.6C236.6 865.2 234.9 866.9 233.3 868.7C231.7 870.4 230.2 872.2 228.7 873.9C227.2 875.7 225.7 877.6 224.3 879.4C223.0 881.3 221.6 883.1 220.4 885.1C219.1 887.0 218.0 889.0 216.9 891.0C215.8 893.0 214.7 895.0 213.8 897.1C212.8 899.2 212.0 901.3 211.1 903.4C210.3 905.5 209.6 907.7 208.9 909.9C208.2 912.1 207.6 914.3 207.0 916.6C206.4 918.9 205.9 921.1 205.4 923.4C205.0 925.7 204.6 928.1 204.2 930.4C203.8 932.7 203.5 935.1 203.3 937.5C203.0 939.8 202.8 942.2 202.6 944.6C202.4 947.0 202.2 949.4 202.1 951.8C202.0 954.3 201.9 956.7 201.9 959.1C201.8 961.5 201.8 964.0 201.8 966.4C201.8 968.8 201.8 971.3 201.9 973.7C201.9 976.1 202.0 978.6 202.1 981.0C202.1 983.4 202.2 985.8 202.3 988.3C202.4 990.7 202.6 993.1 202.7 995.5C202.8 997.9 202.9 1000.2 203.1 1002.6C203.2 1005.0 203.4 1007.3 203.5 1009.6C203.6 1012.0 203.8 1014.3 203.9 1016.6C204.0 1018.8 204.1 1021.1 204.2 1023.4C204.3 1025.6 204.4 1028.9 204.5 1030.0"/>
<path class="s1" d="M393.3 614.5C394.3 615.2 397.5 617.1 399.4 618.6C401.4 620.1 403.2 621.7 405.0 623.4C406.7 625.1 408.3 627.0 409.8 628.9C411.3 630.7 412.7 632.7 414.0 634.8C415.3 636.8 416.4 638.9 417.5 641.1C418.5 643.2 419.4 645.4 420.1 647.7C420.9 649.9 421.5 652.2 422.0 654.5C422.5 656.8 422.9 659.1 423.1 661.4C423.3 663.8 423.4 666.1 423.4 668.4C423.3 670.7 423.2 673.0 422.9 675.3C422.6 677.6 422.2 679.9 421.7 682.1C421.2 684.3 420.5 686.5 419.8 688.6C419.1 690.7 418.2 692.8 417.3 694.9C416.3 696.9 415.3 698.9 414.2 700.9C413.1 702.8 411.8 704.7 410.6 706.6C409.3 708.5 407.9 710.3 406.5 712.1C405.0 713.9 403.5 715.7 401.9 717.4C400.4 719.2 398.7 720.9 397.0 722.5C395.3 724.2 393.6 725.9 391.8 727.5C390.0 729.1 388.2 730.7 386.3 732.3C384.5 733.8 382.6 735.4 380.6 736.9C378.7 738.4 376.7 740.0 374.8 741.5C372.8 742.9 370.8 744.4 368.8 745.9C366.8 747.3 364.8 748.8 362.8 750.2C360.8 751.7 358.8 753.1 356.8 754.5C354.8 755.9 352.8 757.4 350.8 758.8C348.9 760.2 346.9 761.6 345.0 763.0C343.0 764.4 341.1 765.8 339.2 767.2C337.3 768.6 335.4 770.0 333.5 771.4C331.6 772.8 329.8 774.2 327.9 775.6C326.0 777.0 324.2 778.3 322.3 779.7C320.5 781.1 318.7 782.5 316.9 784.0C315.0 785.4 313.2 786.8 311.4 788.2C309.6 789.6 307.8 791.0 306.0 792.5C304.2 793.9 302.4 795.3 300.7 796.8C298.9 798.2 297.1 799.7 295.3 801.1C293.5 802.6 291.8 804.0 290.0 805.5C288.2 807.0 286.5 808.5 284.7 810.0C282.9 811.5 281.1 813.0 279.4 814.6C277.6 816.1 275.8 817.6 274.0 819.2C272.3 820.8 270.5 822.3 268.7 823.9C266.9 825.5 265.1 827.1 263.4 828.8C261.6 830.4 259.8 832.0 258.1 833.7C256.3 835.4 254.6 837.0 252.9 838.7C251.2 840.4 249.5 842.2 247.8 843.9C246.1 845.6 244.5 847.4 242.9 849.2C241.2 851.0 239.7 852.8 238.1 854.6C236.6 856.4 235.0 858.3 233.6 860.1C232.1 862.0 230.7 863.9 229.3 865.8C227.9 867.7 226.6 869.7 225.3 871.6C224.0 873.6 222.8 875.6 221.6 877.6C220.4 879.6 219.3 881.7 218.3 883.8C217.2 885.8 216.2 887.9 215.3 890.1C214.4 892.2 213.5 894.3 212.7 896.5C211.9 898.7 211.2 900.9 210.5 903.1C209.8 905.3 209.1 907.5 208.5 909.8C208.0 912.0 207.4 914.3 206.9 916.6C206.4 918.9 206.0 921.2 205.6 923.5C205.1 925.8 204.8 928.1 204.5 930.5C204.1 932.8 203.8 935.1 203.6 937.5C203.3 939.9 203.1 942.2 202.9 944.6C202.8 947.0 202.6 949.4 202.5 951.8C202.4 954.2 202.3 956.6 202.2 959.0C202.1 961.4 202.1 963.8 202.1 966.2C202.1 968.6 202.1 971.0 202.1 973.4C202.1 975.8 202.2 978.2 202.2 980.6C202.3 983.0 202.4 985.4 202.4 987.8C202.5 990.2 202.6 992.6 202.7 995.0C202.8 997.4 202.9 999.8 203.1 1002.1C203.2 1004.5 203.3 1006.9 203.4 1009.2C203.5 1011.6 203.7 1013.9 203.8 1016.2C203.9 1018.6 204.0 1020.9 204.2 1023.2C204.3 1025.5 204.4 1028.9 204.5 1030.0"/>
<path class="s2" d="M250.0 615.0C250.8 615.7 253.3 617.9 255.0 619.4C256.7 620.9 258.4 622.3 260.1 623.8C261.8 625.3 263.5 626.8 265.2 628.3C267.0 629.8 268.7 631.3 270.5 632.8C272.2 634.4 274.0 635.9 275.8 637.4C277.5 639.0 279.3 640.6 281.1 642.1C282.8 643.7 284.6 645.3 286.4 646.9C288.1 648.6 289.9 650.2 291.6 651.9C293.4 653.5 295.1 655.2 296.8 656.9C298.6 658.6 300.3 660.3 302.0 662.1C303.6 663.8 305.3 665.6 307.0 667.4C308.6 669.2 310.2 671.0 311.8 672.9C313.3 674.7 314.9 676.6 316.3 678.5C317.8 680.4 319.3 682.3 320.6 684.2C322.0 686.2 323.3 688.2 324.6 690.2C325.8 692.2 327.0 694.2 328.1 696.2C329.3 698.3 330.3 700.4 331.3 702.5C332.2 704.6 333.1 706.7 333.9 708.8C334.7 711.0 335.4 713.2 336.0 715.3C336.6 717.5 337.1 719.7 337.6 721.9C338.0 724.1 338.3 726.4 338.6 728.6C338.8 730.8 339.0 733.0 339.0 735.2C339.0 737.5 339.0 739.7 338.8 741.9C338.7 744.1 338.4 746.3 338.0 748.6C337.7 750.8 337.2 753.0 336.7 755.2C336.2 757.4 335.6 759.5 334.9 761.7C334.2 763.9 333.5 766.1 332.7 768.2C331.9 770.4 331.0 772.6 330.1 774.7C329.2 776.9 328.2 779.0 327.2 781.1C326.2 783.3 325.2 785.4 324.1 787.5C323.1 789.6 322.0 791.7 320.8 793.8C319.7 795.8 318.6 797.9 317.4 800.0C316.3 802.0 315.1 804.1 313.9 806.1C312.7 808.2 311.5 810.2 310.3 812.2C309.0 814.2 307.8 816.2 306.5 818.3C305.3 820.3 304.0 822.3 302.7 824.2C301.4 826.2 300.1 828.2 298.8 830.2C297.5 832.2 296.2 834.1 294.8 836.1C293.5 838.1 292.2 840.0 290.8 842.0C289.5 843.9 288.1 845.9 286.8 847.8C285.4 849.8 284.1 851.7 282.7 853.7C281.4 855.6 280.0 857.5 278.6 859.5C277.3 861.4 275.9 863.3 274.5 865.3C273.2 867.2 271.8 869.1 270.5 871.1C269.1 873.0 267.7 874.9 266.4 876.9C265.0 878.8 263.7 880.7 262.4 882.7C261.0 884.6 259.7 886.6 258.4 888.5C257.0 890.4 255.7 892.4 254.4 894.3C253.1 896.3 251.8 898.2 250.5 900.2C249.3 902.1 248.0 904.1 246.7 906.1C245.5 908.0 244.3 910.0 243.0 912.0C241.8 914.0 240.6 915.9 239.4 917.9C238.2 919.9 237.1 921.9 235.9 923.9C234.8 925.9 233.7 927.9 232.6 930.0C231.5 932.0 230.4 934.0 229.3 936.1C228.3 938.1 227.2 940.1 226.2 942.2C225.2 944.3 224.2 946.3 223.3 948.4C222.3 950.5 221.4 952.6 220.5 954.7C219.6 956.8 218.8 958.9 217.9 961.1C217.1 963.2 216.3 965.4 215.5 967.5C214.8 969.7 214.0 971.9 213.3 974.1C212.6 976.2 212.0 978.5 211.4 980.7C210.7 982.9 210.1 985.1 209.6 987.4C209.1 989.6 208.6 991.9 208.1 994.2C207.6 996.5 207.2 998.8 206.8 1001.1C206.5 1003.5 206.1 1005.8 205.8 1008.2C205.5 1010.5 205.3 1012.9 205.1 1015.3C204.9 1017.7 204.8 1020.2 204.7 1022.6C204.6 1025.1 204.5 1028.8 204.5 1030.0"/>
<path class="s3" d="M252.0 615.0C252.8 615.8 255.3 618.0 257.0 619.5C258.7 621.0 260.5 622.5 262.3 623.9C264.0 625.4 265.9 626.8 267.7 628.2C269.5 629.6 271.4 631.0 273.3 632.4C275.2 633.8 277.1 635.2 279.0 636.6C280.9 638.0 282.8 639.4 284.8 640.8C286.7 642.2 288.7 643.6 290.6 645.0C292.5 646.4 294.5 647.8 296.4 649.2C298.4 650.7 300.3 652.1 302.2 653.6C304.1 655.1 306.0 656.6 307.9 658.1C309.8 659.6 311.7 661.1 313.5 662.7C315.3 664.3 317.2 665.9 318.9 667.5C320.7 669.2 322.5 670.9 324.2 672.6C325.9 674.3 327.6 676.1 329.2 677.9C330.8 679.7 332.4 681.5 333.9 683.4C335.4 685.3 336.9 687.3 338.3 689.3C339.7 691.3 341.1 693.3 342.3 695.4C343.6 697.4 344.8 699.5 345.9 701.6C347.0 703.7 348.1 705.9 349.0 708.0C349.9 710.2 350.8 712.4 351.5 714.6C352.3 716.8 352.9 719.0 353.4 721.2C354.0 723.4 354.4 725.6 354.7 727.8C355.0 730.0 355.2 732.2 355.3 734.5C355.4 736.7 355.4 738.9 355.4 741.1C355.3 743.4 355.1 745.6 354.8 747.8C354.6 750.1 354.2 752.3 353.8 754.5C353.4 756.7 352.9 759.0 352.3 761.2C351.7 763.4 351.1 765.6 350.3 767.8C349.6 770.0 348.8 772.2 348.0 774.4C347.1 776.6 346.2 778.8 345.3 780.9C344.3 783.1 343.3 785.3 342.2 787.4C341.1 789.6 340.0 791.7 338.9 793.8C337.7 796.0 336.5 798.1 335.3 800.2C334.0 802.3 332.8 804.4 331.5 806.4C330.2 808.5 328.8 810.6 327.5 812.6C326.1 814.6 324.8 816.6 323.4 818.6C322.0 820.6 320.6 822.6 319.2 824.6C317.8 826.5 316.3 828.4 314.9 830.4C313.4 832.3 312.0 834.2 310.5 836.1C309.0 838.0 307.6 839.8 306.1 841.7C304.6 843.6 303.1 845.4 301.6 847.3C300.1 849.1 298.6 850.9 297.1 852.7C295.6 854.6 294.1 856.4 292.6 858.2C291.1 860.0 289.5 861.8 288.0 863.6C286.5 865.4 285.0 867.2 283.5 869.0C281.9 870.7 280.4 872.5 278.9 874.3C277.4 876.1 275.9 877.9 274.4 879.7C272.9 881.5 271.4 883.2 269.9 885.0C268.4 886.8 266.9 888.6 265.4 890.4C263.9 892.2 262.5 894.0 261.0 895.9C259.5 897.7 258.1 899.5 256.6 901.3C255.2 903.2 253.8 905.0 252.4 906.9C250.9 908.7 249.5 910.6 248.2 912.5C246.8 914.4 245.4 916.3 244.1 918.2C242.7 920.1 241.4 922.0 240.1 924.0C238.7 925.9 237.5 927.9 236.2 929.9C234.9 931.9 233.7 933.9 232.4 935.9C231.2 938.0 230.0 940.0 228.8 942.1C227.6 944.2 226.5 946.2 225.4 948.4C224.2 950.5 223.2 952.6 222.1 954.7C221.1 956.9 220.0 959.0 219.0 961.2C218.1 963.4 217.1 965.6 216.2 967.8C215.3 970.0 214.5 972.2 213.6 974.5C212.8 976.7 212.1 979.0 211.3 981.2C210.6 983.5 209.9 985.8 209.3 988.0C208.7 990.3 208.1 992.6 207.6 994.9C207.1 997.2 206.6 999.5 206.2 1001.9C205.8 1004.2 205.5 1006.5 205.2 1008.8C204.9 1011.2 204.7 1013.5 204.6 1015.9C204.4 1018.2 204.3 1020.6 204.3 1022.9C204.3 1025.3 204.5 1028.8 204.5 1030.0"/>
<path class="s2" d="M531.5 614.5C532.4 615.0 535.2 616.5 537.1 617.6C539.0 618.7 541.0 619.8 543.0 621.0C545.0 622.1 547.1 623.3 549.1 624.6C551.2 625.9 553.3 627.2 555.3 628.5C557.4 629.9 559.4 631.3 561.5 632.7C563.5 634.2 565.5 635.7 567.5 637.2C569.4 638.8 571.4 640.4 573.2 642.0C575.1 643.7 576.9 645.4 578.6 647.2C580.3 648.9 581.9 650.7 583.4 652.6C584.9 654.4 586.3 656.4 587.6 658.3C588.9 660.3 590.1 662.3 591.1 664.4C592.1 666.5 593.0 668.6 593.8 670.7C594.6 672.9 595.2 675.0 595.7 677.2C596.2 679.4 596.6 681.6 596.8 683.8C597.0 686.0 597.1 688.2 597.0 690.4C596.9 692.6 596.7 694.8 596.3 696.9C595.9 699.1 595.4 701.2 594.7 703.3C594.1 705.4 593.2 707.5 592.3 709.5C591.4 711.6 590.3 713.6 589.1 715.5C587.9 717.5 586.6 719.4 585.2 721.3C583.8 723.2 582.3 725.1 580.8 726.9C579.2 728.7 577.6 730.5 575.9 732.2C574.2 734.0 572.4 735.7 570.6 737.4C568.7 739.0 566.9 740.7 565.0 742.3C563.1 743.8 561.1 745.4 559.2 746.9C557.3 748.4 555.3 749.9 553.3 751.3C551.4 752.7 549.4 754.1 547.4 755.4C545.4 756.8 543.4 758.1 541.4 759.3C539.4 760.6 537.3 761.9 535.3 763.1C533.3 764.3 531.2 765.5 529.2 766.6C527.1 767.8 525.1 768.9 523.0 770.1C521.0 771.2 518.9 772.3 516.8 773.3C514.7 774.4 512.7 775.5 510.6 776.5C508.5 777.5 506.4 778.6 504.3 779.6C502.2 780.6 500.1 781.6 498.0 782.6C495.9 783.6 493.8 784.6 491.7 785.6C489.6 786.6 487.5 787.5 485.4 788.5C483.3 789.5 481.1 790.5 479.0 791.5C476.9 792.5 474.8 793.5 472.7 794.5C470.6 795.5 468.5 796.5 466.4 797.5C464.3 798.5 462.2 799.5 460.1 800.5C458.0 801.6 455.9 802.6 453.8 803.7C451.7 804.7 449.6 805.8 447.5 806.8C445.5 807.9 443.4 808.9 441.3 810.0C439.2 811.1 437.1 812.2 435.0 813.3C432.9 814.4 430.9 815.5 428.8 816.6C426.7 817.7 424.6 818.8 422.6 819.9C420.5 821.0 418.4 822.1 416.3 823.3C414.3 824.4 412.2 825.5 410.1 826.6C408.0 827.8 406.0 828.9 403.9 830.1C401.8 831.2 399.8 832.4 397.7 833.5C395.7 834.7 393.6 835.8 391.5 837.0C389.5 838.1 387.4 839.3 385.4 840.5C383.3 841.6 381.2 842.8 379.2 844.0C377.1 845.2 375.1 846.3 373.0 847.5C371.0 848.7 368.9 849.9 366.9 851.1C364.8 852.2 362.8 853.4 360.7 854.6C358.7 855.8 356.6 857.0 354.6 858.2C352.6 859.4 350.5 860.5 348.5 861.7C346.4 862.9 344.4 864.1 342.4 865.3C340.3 866.5 338.3 867.7 336.2 868.9C334.2 870.1 332.2 871.3 330.1 872.5C328.1 873.7 326.1 874.9 324.0 876.1C322.0 877.3 320.0 878.5 318.0 879.7C316.0 880.9 314.0 882.1 312.0 883.4C310.0 884.6 308.0 885.8 306.0 887.1C304.0 888.4 302.0 889.6 300.1 890.9C298.1 892.2 296.2 893.5 294.2 894.8C292.3 896.1 290.3 897.4 288.4 898.8C286.5 900.1 284.6 901.5 282.7 902.8C280.8 904.2 279.0 905.6 277.1 907.0C275.2 908.4 273.4 909.9 271.6 911.4C269.8 912.8 267.9 914.3 266.2 915.8C264.4 917.3 262.6 918.9 260.9 920.4C259.1 922.0 257.4 923.6 255.7 925.2C254.0 926.9 252.3 928.5 250.6 930.2C249.0 931.9 247.3 933.6 245.7 935.3C244.1 937.1 242.6 938.8 241.0 940.6C239.5 942.4 238.0 944.3 236.5 946.1C235.0 948.0 233.6 949.8 232.2 951.7C230.8 953.6 229.4 955.6 228.1 957.5C226.8 959.5 225.5 961.4 224.3 963.4C223.0 965.5 221.8 967.5 220.7 969.5C219.6 971.6 218.5 973.6 217.5 975.7C216.4 977.8 215.4 980.0 214.5 982.1C213.6 984.2 212.7 986.4 211.9 988.6C211.1 990.8 210.3 993.0 209.7 995.2C209.0 997.4 208.4 999.7 207.8 1001.9C207.2 1004.2 206.7 1006.5 206.3 1008.8C205.9 1011.1 205.5 1013.4 205.3 1015.7C205.0 1018.1 204.8 1020.4 204.7 1022.8C204.5 1025.2 204.5 1028.8 204.5 1030.0"/>
<path class="s3" d="M583.0 614.5C584.0 615.1 586.8 616.9 588.7 618.0C590.6 619.2 592.5 620.4 594.4 621.6C596.4 622.8 598.3 624.0 600.3 625.2C602.3 626.5 604.3 627.7 606.2 629.0C608.2 630.2 610.2 631.5 612.2 632.9C614.2 634.2 616.1 635.6 618.1 637.0C620.1 638.4 622.1 639.9 624.0 641.4C626.0 642.9 627.9 644.4 629.8 646.1C631.7 647.7 633.6 649.3 635.3 651.1C637.1 652.8 638.8 654.5 640.4 656.4C641.9 658.2 643.4 660.1 644.7 662.1C646.0 664.0 647.1 666.0 648.1 668.1C649.0 670.2 649.8 672.4 650.4 674.5C651.0 676.7 651.5 678.9 651.8 681.2C652.0 683.4 652.2 685.7 652.1 688.0C652.1 690.2 651.9 692.5 651.6 694.7C651.3 697.0 650.8 699.2 650.2 701.4C649.7 703.6 648.9 705.8 648.1 707.9C647.3 709.9 646.3 712.0 645.3 714.0C644.2 715.9 643.1 717.8 641.8 719.6C640.5 721.4 639.2 723.2 637.7 724.9C636.3 726.6 634.7 728.2 633.1 729.8C631.5 731.4 629.8 732.9 628.1 734.4C626.3 735.9 624.5 737.3 622.6 738.7C620.8 740.1 618.8 741.4 616.8 742.7C614.9 744.0 612.8 745.3 610.8 746.5C608.7 747.8 606.6 749.0 604.5 750.2C602.4 751.3 600.2 752.5 598.0 753.6C595.9 754.8 593.7 755.9 591.5 757.0C589.3 758.1 587.1 759.2 584.9 760.3C582.7 761.4 580.5 762.5 578.3 763.5C576.2 764.6 574.0 765.7 571.8 766.8C569.7 767.8 567.6 768.9 565.4 770.0C563.3 771.1 561.2 772.1 559.0 773.2C556.9 774.3 554.8 775.3 552.7 776.4C550.6 777.4 548.5 778.5 546.4 779.6C544.4 780.6 542.3 781.7 540.2 782.7C538.1 783.7 536.0 784.8 534.0 785.8C531.9 786.9 529.8 787.9 527.7 788.9C525.7 789.9 523.6 791.0 521.5 792.0C519.5 793.0 517.4 794.0 515.3 795.0C513.3 796.0 511.2 797.0 509.1 798.0C507.0 799.0 505.0 800.0 502.9 801.0C500.8 802.0 498.7 803.0 496.6 804.0C494.5 805.0 492.4 805.9 490.3 806.9C488.2 807.9 486.1 808.8 484.0 809.8C481.9 810.7 479.8 811.7 477.7 812.7C475.5 813.6 473.4 814.6 471.3 815.5C469.2 816.4 467.1 817.4 464.9 818.3C462.8 819.3 460.7 820.2 458.5 821.2C456.4 822.1 454.3 823.0 452.1 824.0C450.0 824.9 447.9 825.9 445.7 826.8C443.6 827.7 441.5 828.7 439.3 829.6C437.2 830.6 435.1 831.5 432.9 832.4C430.8 833.4 428.6 834.3 426.5 835.3C424.4 836.2 422.2 837.2 420.1 838.1C417.9 839.1 415.8 840.0 413.7 841.0C411.5 841.9 409.4 842.9 407.3 843.9C405.1 844.8 403.0 845.8 400.9 846.8C398.7 847.7 396.6 848.7 394.5 849.7C392.3 850.7 390.2 851.7 388.1 852.7C386.0 853.7 383.8 854.7 381.7 855.7C379.6 856.7 377.5 857.7 375.4 858.7C373.3 859.7 371.2 860.8 369.1 861.8C367.0 862.8 364.9 863.9 362.8 864.9C360.7 866.0 358.6 867.1 356.5 868.1C354.4 869.2 352.3 870.3 350.2 871.4C348.1 872.5 346.1 873.6 344.0 874.7C341.9 875.8 339.9 876.9 337.8 878.1C335.7 879.2 333.7 880.3 331.6 881.5C329.6 882.7 327.6 883.8 325.5 885.0C323.5 886.2 321.5 887.4 319.4 888.6C317.4 889.8 315.4 891.0 313.4 892.3C311.4 893.5 309.4 894.8 307.4 896.0C305.4 897.3 303.4 898.6 301.5 899.9C299.5 901.2 297.5 902.5 295.5 903.8C293.6 905.1 291.6 906.5 289.7 907.8C287.8 909.2 285.8 910.6 283.9 911.9C282.0 913.3 280.1 914.8 278.2 916.2C276.3 917.6 274.4 919.1 272.6 920.5C270.7 922.0 268.9 923.5 267.1 925.0C265.3 926.5 263.5 928.0 261.7 929.6C259.9 931.1 258.2 932.7 256.5 934.2C254.7 935.8 253.0 937.4 251.4 939.1C249.7 940.7 248.1 942.4 246.5 944.0C244.9 945.7 243.3 947.4 241.7 949.1C240.2 950.9 238.7 952.6 237.2 954.4C235.8 956.1 234.3 957.9 232.9 959.8C231.5 961.6 230.2 963.4 228.9 965.3C227.5 967.2 226.3 969.1 225.0 971.0C223.8 972.9 222.6 974.9 221.5 976.8C220.4 978.8 219.3 980.8 218.2 982.9C217.2 984.9 216.2 987.0 215.2 989.0C214.3 991.1 213.4 993.3 212.6 995.4C211.7 997.6 211.0 999.7 210.2 1002.0C209.5 1004.2 208.9 1006.4 208.3 1008.7C207.6 1011.0 207.1 1013.3 206.6 1015.6C206.1 1017.9 205.7 1020.3 205.3 1022.7C205.0 1025.1 204.6 1028.8 204.5 1030.0"/>
<path class="al" d="M188.8 793.8 L275.6 682.9"/>
<path class="ah" d="M277.5 680.5 L271.3 693.4 L266.4 689.6 Z"/>
<path class="al" d="M188.8 793.8 L297.3 698.0"/>
<path class="ah" d="M299.5 696.0 L291.1 707.6 L287.0 702.9 Z"/>
<path class="al" d="M188.8 793.8 L330.4 716.9"/>
<path class="ah" d="M333.0 715.5 L322.2 724.9 L319.2 719.5 Z"/>
<path class="al" d="M188.8 793.8 L350.9 739.0"/>
<path class="ah" d="M353.8 738.0 L341.5 745.4 L339.5 739.5 Z"/>
<path class="al" d="M550.0 840.0 L473.1 701.6"/>
<path class="ah" d="M471.6 699.0 L481.1 709.7 L475.7 712.7 Z"/>
<path class="al" d="M550.0 840.0 L408.9 717.0"/>
<path class="ah" d="M406.6 715.0 L419.2 721.9 L415.1 726.5 Z"/>
<path class="al" d="M550.0 840.0 L557.7 751.0"/>
<path class="ah" d="M558.0 748.0 L559.9 762.2 L553.7 761.7 Z"/>
<path class="al" d="M550.0 840.0 L604.8 754.0"/>
<path class="ah" d="M606.4 751.5 L601.5 765.0 L596.3 761.6 Z"/>
<text x="130.5" y="818.0" font-size="22" textLength="100.5" lengthAdjust="spacingAndGlyphs" class="lb">桩顶固支</text>
<text x="501.0" y="867.0" font-size="22" textLength="100.5" lengthAdjust="spacingAndGlyphs" class="lb">桩顶自由</text>
<path class="l0" d="M316.0 908.5 H366.0"/>
<text x="375.0" y="917.1" font-size="26" textLength="88.5" lengthAdjust="spacingAndGlyphs" class="lg">正斜桩</text>
<text x="463.0" y="916.6" font-size="29" class="lgl">(</text>
<text x="472.5" y="917.1" font-size="26" textLength="118.5" lengthAdjust="spacingAndGlyphs" class="lg">上拔荷载</text>
<text x="592.5" y="918.1" font-size="29" textLength="50.5" lengthAdjust="spacingAndGlyphs" class="lgl">0.13</text>
<text x="654.0" y="918.1" font-size="28" class="lgi">Q</text>
<text x="674.5" y="919.1" font-size="16" class="lgu">u</text>
<text x="684.0" y="916.1" font-size="29" class="lgl">)</text>
<path class="l1" d="M316.0 940.5 H366.0"/>
<text x="375.0" y="949.1" font-size="26" textLength="88.5" lengthAdjust="spacingAndGlyphs" class="lg">正斜桩</text>
<text x="463.0" y="948.6" font-size="29" class="lgl">(</text>
<text x="472.5" y="949.1" font-size="26" textLength="118.5" lengthAdjust="spacingAndGlyphs" class="lg">上拔荷载</text>
<text x="592.5" y="950.1" font-size="29" textLength="50.5" lengthAdjust="spacingAndGlyphs" class="lgl">0.26</text>
<text x="654.0" y="950.1" font-size="28" class="lgi">Q</text>
<text x="674.5" y="951.1" font-size="16" class="lgu">u</text>
<text x="684.0" y="948.1" font-size="29" class="lgl">)</text>
<path class="l2" d="M316.0 973.8 H366.0"/>
<text x="375.0" y="982.4" font-size="26" textLength="88.5" lengthAdjust="spacingAndGlyphs" class="lg">负斜桩</text>
<text x="463.0" y="981.9" font-size="29" class="lgl">(</text>
<text x="472.5" y="982.4" font-size="26" textLength="118.5" lengthAdjust="spacingAndGlyphs" class="lg">上拔荷载</text>
<text x="592.5" y="983.4" font-size="29" textLength="50.5" lengthAdjust="spacingAndGlyphs" class="lgl">0.13</text>
<text x="654.0" y="983.4" font-size="28" class="lgi">Q</text>
<text x="674.5" y="984.4" font-size="16" class="lgu">u</text>
<text x="684.0" y="981.4" font-size="29" class="lgl">)</text>
<path class="l3" d="M316.0 1006.8 H366.0"/>
<text x="375.0" y="1015.4" font-size="26" textLength="88.5" lengthAdjust="spacingAndGlyphs" class="lg">负斜桩</text>
<text x="463.0" y="1014.9" font-size="29" class="lgl">(</text>
<text x="472.5" y="1015.4" font-size="26" textLength="118.5" lengthAdjust="spacingAndGlyphs" class="lg">上拔荷载</text>
<text x="592.5" y="1016.4" font-size="29" textLength="50.5" lengthAdjust="spacingAndGlyphs" class="lgl">0.26</text>
<text x="654.0" y="1016.4" font-size="28" class="lgi">Q</text>
<text x="674.5" y="1017.4" font-size="16" class="lgu">u</text>
<text x="684.0" y="1014.4" font-size="29" class="lgl">)</text>
<text x="319.5" y="1108.5" font-size="29.5" textLength="115.5" lengthAdjust="spacingAndGlyphs" class="tt">桩身弯矩</text>
<text x="434.5" y="1108.5" font-size="30" textLength="107.0" lengthAdjust="spacingAndGlyphs" class="ttl">/(MN·m)</text>
<text x="313.5" y="1153.5" font-size="30" class="cp">（</text>
<text x="350.5" y="1151.5" font-size="27" class="ttl">b</text>
<text x="371.0" y="1153.5" font-size="30" class="cp">）</text>
<text x="394.5" y="1153.5" font-size="29" textLength="117.0" lengthAdjust="spacingAndGlyphs" class="cp">桩身弯矩</text>
</g>
<g class="cb">
<path class="ax" d="M135.0 1189.7 V1614.7 H695.0"/>
<path class="ax" d="M135.0 1189.8 h11M135.0 1241.8 h11M135.0 1296.8 h11M135.0 1350.9 h11M135.0 1403.8 h11M135.0 1454.9 h11M135.0 1507.8 h11M135.0 1561.8 h11M204.9 1614.7 v-12M274.8 1614.7 v-12M344.6 1614.7 v-12M414.5 1614.7 v-12M484.4 1614.7 v-12M554.2 1614.7 v-12M624.1 1614.7 v-12M694.0 1614.7 v-12"/>
<text x="124.5" y="1200.7" font-size="30" text-anchor="end" class="yl">0</text>
<text x="124.5" y="1253.3" font-size="30" text-anchor="end" class="yl">5</text>
<text x="124.5" y="1305.9" font-size="30" text-anchor="end" class="ym">10</text>
<text x="124.5" y="1358.5" font-size="30" text-anchor="end" class="ym">15</text>
<text x="124.5" y="1411.1" font-size="30" text-anchor="end" class="ym">20</text>
<text x="124.5" y="1463.7" font-size="30" text-anchor="end" class="ym">25</text>
<text x="124.5" y="1516.3" font-size="30" text-anchor="end" class="ym">30</text>
<text x="124.5" y="1568.9" font-size="30" text-anchor="end" class="ym">35</text>
<text x="124.5" y="1621.5" font-size="30" text-anchor="end" class="ym">40</text>
<text x="89.2" y="1646.1" font-size="29.5" textLength="72.3" lengthAdjust="spacingAndGlyphs" class="xl">−2000</text>
<text x="166.7" y="1646.1" font-size="29.5" textLength="72.3" lengthAdjust="spacingAndGlyphs" class="xl">−1500</text>
<text x="244.2" y="1646.1" font-size="29.5" textLength="69.3" lengthAdjust="spacingAndGlyphs" class="xl">−1000</text>
<text x="321.2" y="1646.1" font-size="29.5" textLength="54.8" lengthAdjust="spacingAndGlyphs" class="xl">−500</text>
<text x="416.6" y="1646.1" font-size="30" text-anchor="middle" class="xl">0</text>
<text x="469.0" y="1646.1" font-size="29.5" textLength="42.0" lengthAdjust="spacingAndGlyphs" class="xl">500</text>
<text x="533.2" y="1646.1" font-size="29.5" textLength="52.2" lengthAdjust="spacingAndGlyphs" class="xl">1000</text>
<text x="600.2" y="1646.1" font-size="29.5" textLength="53.8" lengthAdjust="spacingAndGlyphs" class="xl">1500</text>
<text x="667.0" y="1646.1" font-size="29.5" textLength="55.0" lengthAdjust="spacingAndGlyphs" class="xl">2000</text>
<text transform="translate(81.5 1489.5) rotate(-90)" font-size="29.5" class="tt" textLength="145" lengthAdjust="spacingAndGlyphs">距泥面距离</text>
<text transform="translate(81.5 1341.0) rotate(-90)" font-size="28" class="ttl">/m</text>
<path class="s0" d="M528.0 1190.0C527.1 1190.7 524.4 1192.9 522.5 1194.3C520.7 1195.7 518.8 1197.1 516.9 1198.4C515.0 1199.7 513.1 1201.0 511.1 1202.3C509.2 1203.6 507.2 1204.8 505.3 1206.1C503.3 1207.3 501.3 1208.5 499.3 1209.6C497.3 1210.8 495.3 1211.9 493.2 1213.1C491.2 1214.2 489.2 1215.3 487.1 1216.3C485.0 1217.4 482.9 1218.5 480.8 1219.5C478.8 1220.5 476.6 1221.5 474.5 1222.5C472.4 1223.5 470.3 1224.4 468.1 1225.4C466.0 1226.3 463.8 1227.3 461.7 1228.2C459.5 1229.1 457.3 1230.0 455.1 1230.8C453.0 1231.7 450.8 1232.6 448.6 1233.4C446.4 1234.3 444.2 1235.1 442.0 1235.9C439.7 1236.7 437.5 1237.5 435.3 1238.3C433.1 1239.1 430.8 1239.9 428.6 1240.7C426.4 1241.4 424.1 1242.2 421.9 1243.0C419.6 1243.7 417.4 1244.5 415.2 1245.2C412.9 1245.9 410.7 1246.7 408.4 1247.4C406.1 1248.1 403.9 1248.8 401.6 1249.5C399.4 1250.2 397.1 1250.9 394.9 1251.7C392.6 1252.4 390.4 1253.1 388.1 1253.8C385.9 1254.5 383.6 1255.2 381.4 1255.9C379.1 1256.6 376.9 1257.2 374.7 1257.9C372.4 1258.6 370.2 1259.3 368.0 1260.0C365.7 1260.8 363.5 1261.5 361.3 1262.2C359.1 1262.9 356.9 1263.6 354.7 1264.3C352.4 1265.1 350.2 1265.8 348.0 1266.5C345.8 1267.3 343.6 1268.0 341.5 1268.8C339.3 1269.6 337.1 1270.4 334.9 1271.2C332.7 1272.0 330.5 1272.8 328.4 1273.6C326.2 1274.4 324.1 1275.3 321.9 1276.1C319.7 1277.0 317.6 1277.9 315.5 1278.8C313.3 1279.7 311.2 1280.6 309.1 1281.5C306.9 1282.5 304.8 1283.5 302.7 1284.5C300.6 1285.5 298.5 1286.5 296.4 1287.5C294.3 1288.6 292.2 1289.6 290.1 1290.7C288.1 1291.9 286.0 1293.0 283.9 1294.2C281.9 1295.3 279.8 1296.5 277.8 1297.7C275.7 1299.0 273.7 1300.2 271.7 1301.5C269.7 1302.8 267.6 1304.2 265.6 1305.6C263.6 1306.9 261.6 1308.3 259.7 1309.8C257.7 1311.3 255.7 1312.7 253.8 1314.3C252.0 1315.9 250.1 1317.5 248.5 1319.1C246.8 1320.8 245.2 1322.5 243.8 1324.3C242.4 1326.1 241.2 1328.0 240.2 1330.0C239.2 1331.9 238.4 1334.0 237.9 1336.1C237.3 1338.3 237.1 1340.5 237.0 1342.8C236.9 1345.0 237.1 1347.4 237.4 1349.7C237.7 1352.0 238.2 1354.4 238.8 1356.7C239.3 1359.0 240.1 1361.3 240.9 1363.5C241.7 1365.8 242.6 1367.9 243.6 1370.0C244.6 1372.1 245.6 1374.2 246.8 1376.2C247.9 1378.2 249.1 1380.1 250.4 1382.0C251.7 1383.9 253.0 1385.7 254.4 1387.5C255.8 1389.3 257.3 1391.1 258.8 1392.8C260.4 1394.5 262.0 1396.2 263.6 1397.8C265.2 1399.5 266.9 1401.1 268.6 1402.6C270.4 1404.2 272.1 1405.7 273.9 1407.2C275.8 1408.7 277.6 1410.2 279.5 1411.6C281.4 1413.1 283.3 1414.5 285.2 1415.9C287.1 1417.3 289.1 1418.7 291.1 1420.1C293.0 1421.4 295.0 1422.8 297.0 1424.1C299.0 1425.4 301.1 1426.8 303.1 1428.1C305.1 1429.4 307.1 1430.7 309.2 1432.0C311.2 1433.3 313.2 1434.6 315.2 1435.9C317.3 1437.2 319.3 1438.5 321.3 1439.8C323.3 1441.1 325.3 1442.4 327.3 1443.7C329.2 1445.0 331.2 1446.3 333.2 1447.7C335.1 1449.0 337.1 1450.3 339.0 1451.6C340.9 1453.0 342.8 1454.3 344.7 1455.7C346.6 1457.1 348.5 1458.4 350.4 1459.8C352.3 1461.2 354.1 1462.6 355.9 1464.0C357.8 1465.4 359.6 1466.9 361.4 1468.3C363.2 1469.8 365.0 1471.2 366.7 1472.7C368.5 1474.2 370.2 1475.7 372.0 1477.2C373.7 1478.8 375.4 1480.3 377.1 1481.9C378.7 1483.5 380.4 1485.1 382.0 1486.7C383.7 1488.3 385.3 1490.0 386.8 1491.6C388.4 1493.3 390.0 1495.0 391.5 1496.8C393.1 1498.5 394.6 1500.3 396.1 1502.1C397.5 1503.9 399.0 1505.7 400.4 1507.6C401.9 1509.5 403.3 1511.4 404.6 1513.3C406.0 1515.3 407.4 1517.3 408.7 1519.3C410.0 1521.3 411.2 1523.3 412.4 1525.4C413.6 1527.5 414.8 1529.6 415.8 1531.7C416.9 1533.8 417.9 1536.0 418.8 1538.2C419.7 1540.4 420.5 1542.6 421.2 1544.8C421.9 1547.0 422.6 1549.2 423.0 1551.5C423.5 1553.7 423.9 1556.0 424.1 1558.3C424.4 1560.6 424.5 1562.9 424.4 1565.2C424.4 1567.5 424.2 1569.8 423.9 1572.1C423.6 1574.4 423.2 1576.7 422.7 1579.0C422.3 1581.3 421.7 1583.6 421.2 1585.9C420.6 1588.2 420.0 1590.5 419.4 1592.8C418.8 1595.1 418.2 1597.4 417.7 1599.6C417.2 1601.9 416.7 1604.1 416.3 1606.4C415.9 1608.6 415.5 1611.9 415.4 1613.0"/>
<path class="s0" d="M528.0 1190.0C527.6 1191.2 526.6 1194.7 525.7 1196.9C524.8 1199.2 523.7 1201.3 522.6 1203.3C521.5 1205.3 520.2 1207.2 518.9 1209.1C517.6 1210.9 516.2 1212.7 514.6 1214.4C513.1 1216.1 511.5 1217.7 509.9 1219.3C508.2 1220.9 506.5 1222.4 504.7 1223.8C502.9 1225.3 501.0 1226.7 499.1 1228.0C497.2 1229.4 495.2 1230.7 493.2 1232.0C491.2 1233.2 489.2 1234.5 487.1 1235.7C485.1 1236.9 483.0 1238.1 480.9 1239.3C478.8 1240.5 476.7 1241.6 474.5 1242.8C472.4 1243.9 470.3 1245.1 468.2 1246.2C466.1 1247.4 464.0 1248.5 461.9 1249.7C459.9 1250.9 457.8 1252.0 455.8 1253.2C453.7 1254.4 451.7 1255.6 449.8 1256.8C447.8 1258.1 445.8 1259.3 443.9 1260.6C441.9 1261.8 440.0 1263.1 438.1 1264.4C436.2 1265.7 434.3 1267.0 432.4 1268.3C430.5 1269.6 428.6 1271.0 426.7 1272.4C424.9 1273.7 423.0 1275.1 421.1 1276.5C419.3 1277.9 417.4 1279.3 415.6 1280.8C413.7 1282.2 411.9 1283.7 410.0 1285.2C408.2 1286.7 406.3 1288.2 404.5 1289.7C402.6 1291.2 400.8 1292.8 398.9 1294.3C397.1 1295.9 395.3 1297.5 393.5 1299.1C391.7 1300.7 389.9 1302.4 388.2 1304.0C386.4 1305.7 384.7 1307.4 383.0 1309.1C381.3 1310.8 379.6 1312.6 378.0 1314.4C376.3 1316.1 374.7 1317.9 373.2 1319.7C371.6 1321.6 370.1 1323.4 368.6 1325.3C367.2 1327.2 365.8 1329.1 364.4 1331.0C363.1 1333.0 361.7 1334.9 360.5 1336.9C359.3 1338.9 358.1 1341.0 357.0 1343.0C355.9 1345.1 354.9 1347.2 353.9 1349.3C353.0 1351.4 352.1 1353.5 351.4 1355.7C350.7 1357.8 350.0 1360.0 349.5 1362.2C349.0 1364.4 348.6 1366.6 348.3 1368.8C348.0 1371.1 347.9 1373.3 347.8 1375.6C347.8 1377.8 347.9 1380.1 348.1 1382.4C348.2 1384.6 348.5 1386.9 348.9 1389.2C349.3 1391.5 349.8 1393.7 350.3 1396.0C350.9 1398.3 351.5 1400.6 352.2 1402.8C352.9 1405.1 353.6 1407.4 354.5 1409.6C355.3 1411.8 356.2 1414.1 357.1 1416.3C358.0 1418.5 358.9 1420.7 359.9 1422.9C360.9 1425.0 361.9 1427.2 363.0 1429.4C364.0 1431.5 365.1 1433.6 366.2 1435.7C367.3 1437.9 368.4 1440.0 369.6 1442.1C370.7 1444.2 371.9 1446.3 373.0 1448.4C374.2 1450.5 375.3 1452.5 376.5 1454.6C377.7 1456.7 378.9 1458.8 380.0 1460.9C381.2 1462.9 382.3 1465.0 383.5 1467.1C384.6 1469.2 385.8 1471.3 386.9 1473.4C388.0 1475.5 389.1 1477.6 390.2 1479.7C391.3 1481.8 392.3 1483.9 393.4 1486.0C394.4 1488.2 395.4 1490.3 396.4 1492.4C397.4 1494.6 398.3 1496.7 399.3 1498.9C400.2 1501.0 401.1 1503.2 402.0 1505.4C402.9 1507.5 403.7 1509.7 404.5 1511.9C405.4 1514.1 406.1 1516.3 406.9 1518.5C407.6 1520.7 408.4 1522.9 409.0 1525.2C409.7 1527.4 410.4 1529.6 411.0 1531.9C411.6 1534.1 412.2 1536.3 412.7 1538.6C413.2 1540.9 413.7 1543.1 414.1 1545.4C414.6 1547.7 415.0 1550.0 415.3 1552.3C415.7 1554.6 416.0 1556.9 416.3 1559.2C416.5 1561.5 416.7 1563.8 416.9 1566.2C417.1 1568.5 417.2 1570.9 417.3 1573.2C417.3 1575.6 417.3 1577.9 417.3 1580.3C417.2 1582.7 417.1 1585.1 417.0 1587.5C416.8 1589.9 416.6 1592.3 416.4 1594.7C416.1 1597.1 415.5 1600.8 415.4 1602.0"/>
<path class="s1" d="M507.0 1190.0C506.3 1190.9 504.4 1193.7 502.9 1195.4C501.5 1197.1 499.9 1198.8 498.3 1200.3C496.7 1201.9 495.0 1203.4 493.2 1204.9C491.5 1206.4 489.7 1207.8 487.8 1209.1C486.0 1210.5 484.0 1211.8 482.1 1213.0C480.1 1214.3 478.1 1215.5 476.1 1216.7C474.1 1217.9 472.0 1219.1 470.0 1220.2C467.9 1221.3 465.8 1222.4 463.8 1223.5C461.7 1224.6 459.6 1225.7 457.5 1226.8C455.4 1227.8 453.3 1228.9 451.2 1229.9C449.1 1230.9 447.0 1231.9 444.9 1232.9C442.8 1233.9 440.7 1234.9 438.6 1235.9C436.5 1236.9 434.4 1237.9 432.2 1238.8C430.1 1239.8 428.0 1240.7 425.9 1241.6C423.7 1242.6 421.6 1243.5 419.5 1244.4C417.3 1245.3 415.2 1246.2 413.1 1247.2C410.9 1248.1 408.8 1248.9 406.6 1249.8C404.5 1250.7 402.3 1251.6 400.2 1252.5C398.0 1253.4 395.9 1254.2 393.7 1255.1C391.5 1256.0 389.4 1256.9 387.2 1257.7C385.0 1258.6 382.8 1259.5 380.7 1260.3C378.5 1261.2 376.3 1262.0 374.1 1262.9C372.0 1263.8 369.8 1264.6 367.6 1265.5C365.4 1266.4 363.2 1267.2 361.0 1268.1C358.8 1269.0 356.6 1269.8 354.4 1270.7C352.2 1271.6 350.0 1272.5 347.8 1273.4C345.6 1274.3 343.4 1275.2 341.2 1276.2C339.0 1277.1 336.9 1278.1 334.7 1279.0C332.5 1280.0 330.4 1281.0 328.2 1282.1C326.1 1283.1 324.0 1284.2 321.8 1285.3C319.7 1286.5 317.6 1287.6 315.6 1288.8C313.5 1290.0 311.4 1291.3 309.4 1292.6C307.4 1293.9 305.4 1295.3 303.5 1296.7C301.5 1298.1 299.6 1299.5 297.8 1301.1C296.0 1302.6 294.2 1304.1 292.5 1305.8C290.8 1307.4 289.2 1309.1 287.7 1310.8C286.2 1312.6 284.8 1314.4 283.5 1316.2C282.2 1318.1 281.0 1320.0 279.9 1322.0C278.9 1324.0 277.9 1326.0 277.1 1328.1C276.3 1330.2 275.6 1332.4 275.1 1334.5C274.5 1336.7 274.1 1338.9 273.8 1341.1C273.5 1343.3 273.4 1345.6 273.3 1347.8C273.3 1350.1 273.3 1352.3 273.5 1354.5C273.7 1356.8 274.0 1359.0 274.5 1361.2C274.9 1363.4 275.5 1365.6 276.2 1367.8C276.9 1369.9 277.7 1372.0 278.6 1374.1C279.5 1376.2 280.5 1378.3 281.6 1380.3C282.7 1382.3 283.9 1384.3 285.2 1386.3C286.5 1388.3 287.8 1390.3 289.2 1392.2C290.6 1394.1 292.1 1396.0 293.7 1397.9C295.2 1399.7 296.8 1401.6 298.4 1403.4C300.0 1405.2 301.7 1407.0 303.4 1408.8C305.1 1410.5 306.8 1412.3 308.5 1414.0C310.3 1415.7 312.0 1417.4 313.8 1419.1C315.5 1420.7 317.3 1422.4 319.1 1424.0C320.8 1425.6 322.6 1427.2 324.3 1428.8C326.1 1430.4 327.9 1431.9 329.6 1433.5C331.4 1435.1 333.1 1436.6 334.9 1438.1C336.7 1439.7 338.4 1441.2 340.2 1442.7C341.9 1444.3 343.7 1445.8 345.4 1447.3C347.1 1448.8 348.9 1450.4 350.6 1451.9C352.3 1453.4 354.0 1454.9 355.7 1456.5C357.5 1458.0 359.1 1459.6 360.8 1461.1C362.5 1462.7 364.2 1464.2 365.8 1465.8C367.5 1467.4 369.1 1469.0 370.8 1470.6C372.4 1472.3 374.0 1473.9 375.6 1475.6C377.2 1477.2 378.8 1478.9 380.4 1480.6C381.9 1482.4 383.5 1484.1 385.0 1485.9C386.5 1487.6 388.0 1489.5 389.5 1491.3C391.0 1493.1 392.4 1495.0 393.8 1496.9C395.2 1498.8 396.6 1500.7 398.0 1502.7C399.3 1504.6 400.6 1506.6 401.9 1508.6C403.2 1510.6 404.4 1512.6 405.6 1514.7C406.8 1516.7 407.9 1518.8 409.0 1520.9C410.1 1523.0 411.1 1525.1 412.1 1527.2C413.0 1529.3 413.9 1531.5 414.8 1533.7C415.6 1535.8 416.4 1538.0 417.1 1540.2C417.8 1542.4 418.5 1544.6 419.0 1546.9C419.6 1549.1 420.1 1551.3 420.5 1553.6C420.9 1555.8 421.2 1558.1 421.5 1560.4C421.7 1562.7 421.9 1565.0 421.9 1567.2C422.0 1569.5 422.0 1571.8 421.9 1574.1C421.7 1576.5 421.5 1578.8 421.2 1581.1C420.9 1583.4 420.5 1585.7 419.9 1588.1C419.4 1590.4 418.7 1592.7 418.0 1595.0C417.2 1597.4 415.8 1600.8 415.4 1602.0"/>
<path class="s1" d="M507.0 1190.0C506.6 1191.1 505.3 1194.5 504.4 1196.6C503.4 1198.7 502.4 1200.8 501.2 1202.8C500.1 1204.8 498.9 1206.7 497.7 1208.6C496.4 1210.5 495.1 1212.4 493.7 1214.2C492.3 1216.0 490.9 1217.7 489.4 1219.4C487.9 1221.1 486.3 1222.8 484.7 1224.4C483.2 1226.1 481.5 1227.6 479.9 1229.2C478.2 1230.8 476.5 1232.3 474.8 1233.9C473.1 1235.4 471.3 1236.9 469.5 1238.4C467.7 1239.8 465.9 1241.3 464.1 1242.8C462.3 1244.2 460.5 1245.7 458.6 1247.1C456.8 1248.5 454.9 1250.0 453.1 1251.4C451.2 1252.8 449.3 1254.2 447.4 1255.6C445.5 1257.1 443.6 1258.5 441.8 1259.9C439.9 1261.3 438.0 1262.8 436.1 1264.2C434.2 1265.6 432.3 1267.1 430.5 1268.5C428.6 1270.0 426.7 1271.5 424.9 1273.0C423.0 1274.5 421.2 1276.0 419.4 1277.5C417.5 1279.0 415.7 1280.6 414.0 1282.2C412.2 1283.8 410.4 1285.4 408.7 1287.0C407.0 1288.7 405.3 1290.3 403.6 1292.0C401.9 1293.7 400.3 1295.5 398.7 1297.3C397.1 1299.0 395.5 1300.9 394.0 1302.7C392.4 1304.5 390.9 1306.4 389.5 1308.3C388.0 1310.2 386.6 1312.2 385.3 1314.1C383.9 1316.1 382.6 1318.1 381.3 1320.1C380.1 1322.1 378.9 1324.1 377.7 1326.2C376.6 1328.2 375.5 1330.3 374.4 1332.4C373.4 1334.5 372.4 1336.7 371.5 1338.8C370.6 1340.9 369.8 1343.1 369.0 1345.2C368.2 1347.4 367.5 1349.6 366.8 1351.8C366.2 1354.0 365.6 1356.2 365.1 1358.4C364.6 1360.6 364.2 1362.9 363.9 1365.1C363.5 1367.3 363.3 1369.6 363.1 1371.8C362.9 1374.1 362.8 1376.3 362.8 1378.6C362.8 1380.8 362.8 1383.1 363.0 1385.4C363.1 1387.6 363.3 1389.9 363.5 1392.2C363.7 1394.4 364.0 1396.7 364.4 1399.0C364.8 1401.2 365.2 1403.5 365.7 1405.8C366.1 1408.1 366.7 1410.4 367.2 1412.6C367.8 1414.9 368.4 1417.2 369.0 1419.5C369.7 1421.7 370.4 1424.0 371.1 1426.3C371.8 1428.5 372.6 1430.8 373.4 1433.1C374.2 1435.3 375.0 1437.6 375.8 1439.9C376.6 1442.1 377.5 1444.4 378.4 1446.6C379.2 1448.9 380.1 1451.1 381.0 1453.3C381.9 1455.6 382.9 1457.8 383.8 1460.0C384.7 1462.2 385.6 1464.4 386.5 1466.6C387.5 1468.8 388.4 1471.0 389.3 1473.2C390.2 1475.4 391.2 1477.6 392.1 1479.8C393.0 1482.0 393.9 1484.1 394.8 1486.3C395.7 1488.5 396.6 1490.6 397.5 1492.8C398.3 1495.0 399.2 1497.1 400.0 1499.3C400.9 1501.5 401.7 1503.6 402.5 1505.8C403.3 1508.0 404.1 1510.1 404.9 1512.3C405.7 1514.5 406.4 1516.7 407.1 1518.8C407.8 1521.0 408.5 1523.2 409.2 1525.4C409.8 1527.6 410.5 1529.8 411.1 1532.0C411.7 1534.2 412.2 1536.4 412.8 1538.6C413.3 1540.8 413.8 1543.1 414.2 1545.3C414.7 1547.6 415.1 1549.8 415.4 1552.1C415.8 1554.3 416.1 1556.6 416.4 1558.9C416.7 1561.2 416.9 1563.5 417.1 1565.8C417.2 1568.2 417.3 1570.5 417.4 1572.8C417.5 1575.2 417.5 1577.6 417.4 1580.0C417.4 1582.4 417.3 1584.8 417.1 1587.2C417.0 1589.6 416.7 1592.1 416.5 1594.5C416.2 1597.0 415.6 1600.8 415.4 1602.0"/>
<path class="s2" d="M573.0 1189.5C572.4 1190.5 570.6 1193.4 569.2 1195.3C567.9 1197.1 566.4 1198.8 564.8 1200.4C563.2 1202.1 561.5 1203.7 559.8 1205.2C558.0 1206.7 556.2 1208.1 554.3 1209.5C552.4 1210.8 550.5 1212.1 548.5 1213.4C546.5 1214.7 544.5 1215.9 542.4 1217.1C540.4 1218.3 538.3 1219.4 536.2 1220.5C534.1 1221.6 532.0 1222.7 529.9 1223.8C527.8 1224.8 525.6 1225.8 523.5 1226.8C521.3 1227.8 519.1 1228.7 517.0 1229.6C514.8 1230.6 512.6 1231.4 510.4 1232.3C508.2 1233.1 506.0 1233.9 503.8 1234.7C501.6 1235.5 499.4 1236.3 497.2 1237.0C495.0 1237.8 492.8 1238.5 490.6 1239.2C488.4 1240.0 486.2 1240.7 484.0 1241.4C481.7 1242.1 479.5 1242.9 477.3 1243.6C475.1 1244.4 472.9 1245.1 470.7 1245.9C468.4 1246.6 466.2 1247.4 464.0 1248.1C461.8 1248.9 459.6 1249.7 457.3 1250.5C455.1 1251.2 452.9 1252.0 450.7 1252.8C448.4 1253.6 446.2 1254.3 444.0 1255.1C441.8 1255.9 439.5 1256.7 437.3 1257.5C435.1 1258.3 432.9 1259.1 430.6 1259.9C428.4 1260.7 426.2 1261.5 424.0 1262.3C421.7 1263.0 419.5 1263.8 417.3 1264.6C415.0 1265.4 412.8 1266.2 410.6 1267.0C408.4 1267.8 406.1 1268.6 403.9 1269.4C401.7 1270.2 399.5 1270.9 397.2 1271.7C395.0 1272.5 392.8 1273.3 390.5 1274.0C388.3 1274.8 386.1 1275.6 383.9 1276.3C381.6 1277.1 379.4 1277.9 377.2 1278.6C375.0 1279.4 372.7 1280.1 370.5 1280.9C368.3 1281.6 366.1 1282.4 363.9 1283.1C361.6 1283.8 359.4 1284.6 357.2 1285.3C355.0 1286.1 352.8 1286.8 350.6 1287.5C348.4 1288.3 346.1 1289.0 343.9 1289.8C341.7 1290.5 339.5 1291.3 337.3 1292.1C335.1 1292.8 332.9 1293.6 330.7 1294.4C328.5 1295.1 326.3 1295.9 324.1 1296.7C321.9 1297.5 319.7 1298.3 317.6 1299.1C315.4 1299.9 313.2 1300.8 311.0 1301.6C308.8 1302.4 306.7 1303.3 304.5 1304.2C302.3 1305.0 300.2 1305.9 298.0 1306.8C295.8 1307.7 293.7 1308.6 291.5 1309.6C289.4 1310.5 287.2 1311.5 285.1 1312.4C282.9 1313.4 280.8 1314.4 278.7 1315.4C276.5 1316.5 274.4 1317.5 272.3 1318.6C270.2 1319.6 268.0 1320.7 265.9 1321.9C263.8 1323.0 261.7 1324.1 259.6 1325.3C257.5 1326.5 255.4 1327.7 253.4 1328.9C251.3 1330.1 249.2 1331.4 247.1 1332.7C245.1 1334.0 243.0 1335.3 241.0 1336.7C239.0 1338.0 237.0 1339.4 235.0 1340.9C233.1 1342.3 231.2 1343.8 229.4 1345.4C227.5 1346.9 225.8 1348.5 224.1 1350.2C222.4 1351.8 220.7 1353.5 219.2 1355.3C217.7 1357.0 216.2 1358.8 214.9 1360.7C213.5 1362.6 212.3 1364.5 211.2 1366.5C210.0 1368.6 209.0 1370.6 208.2 1372.8C207.3 1374.9 206.5 1377.1 205.9 1379.3C205.3 1381.5 204.9 1383.8 204.6 1386.1C204.3 1388.3 204.2 1390.6 204.2 1392.9C204.2 1395.1 204.4 1397.4 204.7 1399.6C205.1 1401.9 205.6 1404.1 206.2 1406.3C206.8 1408.5 207.6 1410.7 208.4 1412.9C209.3 1415.1 210.2 1417.2 211.3 1419.3C212.4 1421.5 213.5 1423.5 214.7 1425.6C216.0 1427.6 217.3 1429.7 218.6 1431.6C220.0 1433.6 221.4 1435.5 222.9 1437.4C224.3 1439.3 225.8 1441.1 227.4 1442.9C228.9 1444.7 230.5 1446.5 232.1 1448.2C233.7 1449.9 235.4 1451.6 237.1 1453.2C238.7 1454.8 240.4 1456.4 242.2 1458.0C243.9 1459.6 245.7 1461.1 247.5 1462.6C249.3 1464.1 251.1 1465.6 252.9 1467.1C254.8 1468.5 256.7 1470.0 258.5 1471.4C260.4 1472.8 262.3 1474.2 264.2 1475.5C266.2 1476.9 268.1 1478.3 270.1 1479.6C272.0 1480.9 274.0 1482.3 275.9 1483.6C277.9 1484.9 279.9 1486.2 281.9 1487.5C283.9 1488.8 285.9 1490.1 287.9 1491.4C289.8 1492.7 291.9 1493.9 293.9 1495.2C295.9 1496.5 297.9 1497.8 299.9 1499.1C301.8 1500.4 303.8 1501.7 305.8 1503.0C307.8 1504.2 309.8 1505.6 311.8 1506.9C313.7 1508.2 315.7 1509.5 317.7 1510.8C319.6 1512.2 321.6 1513.5 323.5 1514.9C325.4 1516.3 327.3 1517.7 329.2 1519.1C331.1 1520.5 333.0 1521.9 334.8 1523.4C336.7 1524.8 338.5 1526.3 340.4 1527.7C342.2 1529.2 344.0 1530.7 345.8 1532.2C347.6 1533.7 349.4 1535.2 351.2 1536.7C353.0 1538.3 354.8 1539.8 356.5 1541.4C358.3 1542.9 360.0 1544.5 361.7 1546.1C363.5 1547.7 365.2 1549.3 366.9 1550.9C368.6 1552.5 370.3 1554.1 372.0 1555.7C373.7 1557.4 375.3 1559.0 377.0 1560.7C378.7 1562.3 380.3 1564.0 382.0 1565.7C383.6 1567.3 385.3 1569.0 386.9 1570.7C388.5 1572.4 390.2 1574.1 391.8 1575.8C393.4 1577.5 395.0 1579.2 396.6 1581.0C398.2 1582.7 399.8 1584.4 401.3 1586.2C402.9 1587.9 404.5 1589.7 406.1 1591.4C407.6 1593.2 409.2 1594.9 410.8 1596.7C412.3 1598.4 414.6 1601.1 415.4 1602.0"/>
<path class="s3" d="M592.7 1189.5C592.9 1190.7 594.1 1194.8 593.9 1196.9C593.6 1199.0 592.5 1200.6 591.2 1202.1C589.9 1203.6 587.9 1204.7 585.9 1205.7C583.9 1206.8 581.5 1207.6 579.2 1208.5C576.9 1209.4 574.5 1210.1 572.2 1210.9C569.9 1211.7 567.7 1212.5 565.4 1213.3C563.2 1214.1 561.0 1214.9 558.7 1215.7C556.5 1216.5 554.3 1217.3 552.1 1218.1C550.0 1218.9 547.8 1219.7 545.6 1220.5C543.4 1221.3 541.2 1222.2 539.0 1223.0C536.8 1223.8 534.6 1224.6 532.4 1225.4C530.2 1226.3 528.0 1227.1 525.9 1227.9C523.7 1228.7 521.5 1229.6 519.3 1230.4C517.1 1231.2 514.9 1232.1 512.7 1232.9C510.5 1233.7 508.3 1234.6 506.1 1235.4C503.9 1236.2 501.7 1237.1 499.5 1237.9C497.3 1238.7 495.1 1239.5 492.9 1240.4C490.7 1241.2 488.6 1242.0 486.4 1242.8C484.2 1243.7 482.0 1244.5 479.8 1245.3C477.6 1246.1 475.4 1247.0 473.2 1247.8C471.0 1248.6 468.8 1249.4 466.6 1250.2C464.4 1251.0 462.2 1251.8 460.0 1252.7C457.8 1253.5 455.6 1254.3 453.4 1255.1C451.2 1255.9 449.0 1256.7 446.8 1257.5C444.6 1258.3 442.4 1259.1 440.2 1259.9C438.0 1260.7 435.8 1261.5 433.6 1262.3C431.4 1263.1 429.2 1263.9 427.0 1264.7C424.8 1265.5 422.6 1266.3 420.4 1267.1C418.2 1267.9 416.0 1268.7 413.8 1269.5C411.6 1270.3 409.4 1271.1 407.1 1271.9C404.9 1272.7 402.7 1273.5 400.5 1274.3C398.3 1275.1 396.1 1275.9 393.9 1276.7C391.7 1277.5 389.5 1278.3 387.3 1279.1C385.1 1279.9 382.9 1280.7 380.7 1281.5C378.5 1282.2 376.3 1283.0 374.1 1283.8C371.9 1284.6 369.6 1285.4 367.4 1286.2C365.2 1287.0 363.0 1287.8 360.8 1288.6C358.6 1289.4 356.4 1290.2 354.2 1291.0C352.0 1291.8 349.8 1292.5 347.6 1293.3C345.3 1294.1 343.1 1294.9 340.9 1295.7C338.7 1296.5 336.5 1297.3 334.3 1298.1C332.1 1298.9 329.9 1299.7 327.6 1300.5C325.4 1301.3 323.2 1302.1 321.0 1302.9C318.8 1303.6 316.6 1304.4 314.4 1305.2C312.2 1306.0 309.9 1306.8 307.7 1307.6C305.5 1308.4 303.3 1309.2 301.1 1310.0C298.9 1310.8 296.7 1311.6 294.4 1312.4C292.2 1313.2 290.0 1314.0 287.8 1314.8C285.6 1315.6 283.4 1316.4 281.1 1317.2C278.9 1318.0 276.7 1318.8 274.5 1319.6C272.3 1320.5 270.1 1321.3 267.8 1322.1C265.6 1322.9 263.4 1323.7 261.2 1324.5C259.0 1325.3 256.7 1326.1 254.5 1326.9C252.3 1327.8 250.1 1328.6 247.9 1329.4C245.7 1330.2 243.4 1331.0 241.2 1331.9C239.0 1332.7 236.8 1333.6 234.6 1334.4C232.5 1335.3 230.3 1336.2 228.1 1337.2C226.0 1338.1 223.9 1339.1 221.8 1340.1C219.7 1341.1 217.7 1342.2 215.6 1343.3C213.6 1344.4 211.6 1345.6 209.7 1346.8C207.8 1348.1 205.9 1349.4 204.1 1350.8C202.2 1352.2 200.4 1353.7 198.7 1355.2C197.0 1356.8 195.4 1358.4 193.8 1360.2C192.2 1361.9 190.7 1363.7 189.2 1365.7C187.8 1367.6 186.4 1369.7 185.1 1371.9C183.8 1374.0 182.6 1376.3 181.6 1378.6C180.6 1380.9 179.7 1383.3 179.0 1385.7C178.3 1388.0 177.8 1390.4 177.5 1392.7C177.3 1395.0 177.3 1397.3 177.5 1399.5C177.7 1401.7 178.1 1403.9 178.7 1406.0C179.3 1408.2 180.1 1410.3 181.0 1412.3C181.9 1414.4 183.0 1416.4 184.2 1418.3C185.4 1420.3 186.7 1422.2 188.1 1424.1C189.5 1426.0 191.0 1427.9 192.6 1429.7C194.1 1431.5 195.7 1433.3 197.4 1435.1C199.0 1436.8 200.6 1438.5 202.3 1440.2C204.0 1441.9 205.7 1443.6 207.4 1445.3C209.1 1446.9 210.8 1448.5 212.6 1450.1C214.3 1451.7 216.1 1453.2 217.8 1454.8C219.6 1456.3 221.4 1457.8 223.2 1459.3C225.0 1460.8 226.9 1462.3 228.7 1463.8C230.6 1465.2 232.4 1466.6 234.3 1468.1C236.1 1469.5 238.0 1470.9 239.9 1472.3C241.8 1473.6 243.7 1475.0 245.6 1476.4C247.5 1477.7 249.5 1479.1 251.4 1480.4C253.3 1481.7 255.3 1483.0 257.2 1484.4C259.1 1485.7 261.1 1487.0 263.0 1488.3C265.0 1489.6 267.0 1490.8 268.9 1492.1C270.9 1493.4 272.9 1494.7 274.8 1496.0C276.8 1497.2 278.8 1498.5 280.7 1499.8C282.7 1501.0 284.7 1502.3 286.7 1503.6C288.6 1504.9 290.6 1506.1 292.6 1507.4C294.6 1508.7 296.5 1509.9 298.5 1511.2C300.5 1512.5 302.4 1513.8 304.4 1515.1C306.3 1516.4 308.3 1517.7 310.3 1519.0C312.2 1520.3 314.1 1521.6 316.1 1522.9C318.0 1524.3 319.9 1525.6 321.9 1527.0C323.8 1528.3 325.7 1529.7 327.6 1531.1C329.5 1532.4 331.4 1533.8 333.3 1535.2C335.1 1536.7 337.0 1538.1 338.9 1539.5C340.7 1541.0 342.6 1542.5 344.4 1543.9C346.2 1545.4 348.0 1546.9 349.9 1548.4C351.7 1549.9 353.5 1551.4 355.3 1553.0C357.1 1554.5 358.9 1556.0 360.7 1557.6C362.5 1559.1 364.2 1560.6 366.0 1562.2C367.8 1563.7 369.6 1565.3 371.4 1566.8C373.2 1568.4 374.9 1569.9 376.7 1571.5C378.5 1573.0 380.3 1574.5 382.1 1576.1C383.9 1577.6 385.7 1579.1 387.5 1580.6C389.3 1582.1 391.1 1583.6 393.0 1585.1C394.8 1586.6 396.6 1588.0 398.5 1589.5C400.3 1590.9 402.2 1592.4 404.0 1593.8C405.9 1595.2 407.8 1596.6 409.7 1598.0C411.6 1599.3 414.5 1601.3 415.4 1602.0"/>
<path class="s2" d="M573.0 1189.5C572.4 1190.5 570.5 1193.5 569.2 1195.5C567.9 1197.4 566.5 1199.3 565.1 1201.2C563.7 1203.1 562.3 1205.0 560.8 1206.8C559.4 1208.6 557.9 1210.4 556.3 1212.2C554.8 1214.0 553.2 1215.7 551.7 1217.4C550.1 1219.2 548.4 1220.8 546.8 1222.5C545.2 1224.2 543.5 1225.8 541.8 1227.4C540.1 1229.1 538.4 1230.7 536.7 1232.2C534.9 1233.8 533.2 1235.4 531.4 1236.9C529.6 1238.4 527.8 1240.0 526.0 1241.5C524.2 1243.0 522.4 1244.4 520.5 1245.9C518.7 1247.4 516.8 1248.8 515.0 1250.2C513.1 1251.7 511.2 1253.1 509.3 1254.5C507.5 1255.9 505.6 1257.3 503.7 1258.7C501.8 1260.1 499.9 1261.5 498.0 1262.8C496.1 1264.2 494.2 1265.5 492.2 1266.9C490.3 1268.2 488.4 1269.6 486.5 1270.9C484.5 1272.2 482.6 1273.5 480.6 1274.8C478.7 1276.2 476.8 1277.5 474.8 1278.7C472.8 1280.0 470.9 1281.3 468.9 1282.6C467.0 1283.9 465.0 1285.1 463.0 1286.4C461.0 1287.7 459.0 1288.9 457.1 1290.2C455.1 1291.4 453.1 1292.7 451.1 1293.9C449.1 1295.1 447.0 1296.4 445.0 1297.6C443.0 1298.8 441.0 1300.0 439.0 1301.2C436.9 1302.5 434.9 1303.7 432.9 1304.9C430.8 1306.1 428.8 1307.3 426.7 1308.5C424.7 1309.7 422.6 1310.9 420.6 1312.1C418.6 1313.3 416.5 1314.5 414.5 1315.8C412.4 1317.0 410.4 1318.2 408.4 1319.5C406.3 1320.7 404.3 1322.0 402.3 1323.3C400.3 1324.5 398.3 1325.8 396.3 1327.1C394.3 1328.5 392.4 1329.8 390.4 1331.2C388.5 1332.5 386.6 1333.9 384.7 1335.3C382.8 1336.8 380.9 1338.2 379.0 1339.7C377.2 1341.2 375.3 1342.7 373.5 1344.3C371.7 1345.8 369.9 1347.4 368.2 1349.0C366.5 1350.7 364.8 1352.3 363.1 1354.0C361.4 1355.7 359.8 1357.5 358.2 1359.2C356.6 1361.0 355.1 1362.8 353.6 1364.6C352.1 1366.5 350.7 1368.3 349.3 1370.2C347.9 1372.1 346.6 1374.0 345.3 1376.0C344.0 1378.0 342.8 1379.9 341.7 1382.0C340.5 1384.0 339.4 1386.0 338.4 1388.1C337.4 1390.1 336.5 1392.2 335.6 1394.4C334.7 1396.5 333.9 1398.6 333.2 1400.8C332.5 1403.0 331.9 1405.2 331.3 1407.4C330.8 1409.6 330.3 1411.8 329.9 1414.1C329.5 1416.3 329.2 1418.6 329.0 1420.9C328.8 1423.2 328.6 1425.5 328.5 1427.8C328.5 1430.1 328.5 1432.4 328.5 1434.8C328.6 1437.1 328.7 1439.4 328.9 1441.8C329.1 1444.1 329.4 1446.4 329.7 1448.7C330.0 1451.1 330.4 1453.4 330.8 1455.7C331.3 1458.0 331.8 1460.3 332.3 1462.6C332.9 1464.9 333.5 1467.2 334.1 1469.5C334.8 1471.8 335.5 1474.0 336.3 1476.3C337.0 1478.5 337.8 1480.7 338.7 1482.9C339.5 1485.2 340.4 1487.4 341.3 1489.5C342.3 1491.7 343.2 1493.9 344.2 1496.1C345.2 1498.2 346.3 1500.4 347.4 1502.5C348.4 1504.6 349.5 1506.8 350.7 1508.9C351.8 1511.0 353.0 1513.1 354.2 1515.2C355.4 1517.2 356.6 1519.3 357.8 1521.4C359.1 1523.4 360.4 1525.5 361.6 1527.5C362.9 1529.6 364.2 1531.6 365.6 1533.6C366.9 1535.6 368.2 1537.6 369.6 1539.6C370.9 1541.6 372.3 1543.6 373.7 1545.6C375.0 1547.5 376.4 1549.5 377.8 1551.4C379.2 1553.4 380.6 1555.3 382.0 1557.3C383.4 1559.2 384.8 1561.1 386.2 1563.0C387.6 1564.9 389.0 1566.9 390.4 1568.7C391.8 1570.6 393.2 1572.5 394.6 1574.4C396.0 1576.3 397.4 1578.1 398.8 1580.0C400.2 1581.9 401.6 1583.7 402.9 1585.6C404.3 1587.4 405.7 1589.3 407.1 1591.1C408.5 1592.9 409.9 1594.7 411.3 1596.6C412.6 1598.4 414.7 1601.1 415.4 1602.0"/>
<path class="s3" d="M592.7 1189.5C592.6 1190.6 592.6 1194.0 592.1 1196.0C591.7 1198.1 591.0 1200.1 590.1 1202.0C589.2 1203.9 588.0 1205.8 586.8 1207.5C585.5 1209.3 584.0 1211.0 582.5 1212.6C580.9 1214.2 579.2 1215.8 577.5 1217.3C575.7 1218.8 573.8 1220.3 572.0 1221.7C570.1 1223.2 568.1 1224.6 566.2 1225.9C564.3 1227.3 562.3 1228.6 560.3 1230.0C558.3 1231.3 556.3 1232.6 554.3 1233.8C552.3 1235.1 550.3 1236.4 548.3 1237.6C546.2 1238.8 544.2 1240.1 542.2 1241.3C540.1 1242.5 538.1 1243.8 536.1 1245.0C534.1 1246.2 532.0 1247.4 530.0 1248.6C528.0 1249.9 526.0 1251.1 524.0 1252.3C522.0 1253.5 520.0 1254.8 518.0 1256.0C516.0 1257.2 514.0 1258.4 512.0 1259.7C510.0 1260.9 508.0 1262.1 506.0 1263.4C504.0 1264.6 502.0 1265.8 500.0 1267.0C498.0 1268.3 496.1 1269.5 494.1 1270.7C492.1 1272.0 490.1 1273.2 488.1 1274.4C486.2 1275.7 484.2 1276.9 482.2 1278.1C480.3 1279.4 478.3 1280.6 476.3 1281.8C474.3 1283.1 472.4 1284.3 470.4 1285.6C468.4 1286.8 466.5 1288.0 464.5 1289.3C462.5 1290.5 460.5 1291.7 458.6 1293.0C456.6 1294.2 454.6 1295.5 452.7 1296.7C450.7 1297.9 448.7 1299.2 446.7 1300.4C444.8 1301.7 442.8 1302.9 440.8 1304.2C438.8 1305.4 436.8 1306.6 434.9 1307.9C432.9 1309.1 430.9 1310.4 428.9 1311.6C426.9 1312.9 424.9 1314.1 422.9 1315.4C421.0 1316.6 419.0 1317.9 417.0 1319.2C415.0 1320.4 413.0 1321.7 411.0 1323.0C409.1 1324.3 407.1 1325.6 405.1 1326.9C403.1 1328.2 401.2 1329.5 399.2 1330.8C397.2 1332.1 395.3 1333.4 393.3 1334.8C391.4 1336.1 389.4 1337.5 387.5 1338.9C385.6 1340.2 383.6 1341.6 381.7 1343.0C379.8 1344.4 377.9 1345.9 376.0 1347.3C374.1 1348.8 372.2 1350.2 370.4 1351.7C368.5 1353.2 366.7 1354.7 364.9 1356.3C363.1 1357.8 361.3 1359.4 359.7 1361.0C358.0 1362.6 356.3 1364.3 354.8 1366.0C353.2 1367.7 351.7 1369.5 350.3 1371.3C348.9 1373.1 347.6 1375.0 346.4 1376.9C345.1 1378.8 344.0 1380.8 343.0 1382.8C342.0 1384.9 341.1 1387.0 340.3 1389.1C339.5 1391.3 338.8 1393.5 338.2 1395.7C337.6 1398.0 337.1 1400.3 336.7 1402.6C336.3 1404.9 336.0 1407.2 335.7 1409.6C335.5 1411.9 335.3 1414.3 335.2 1416.7C335.1 1419.0 335.1 1421.4 335.2 1423.8C335.2 1426.2 335.4 1428.6 335.6 1430.9C335.8 1433.3 336.0 1435.7 336.4 1438.0C336.7 1440.3 337.1 1442.6 337.5 1444.9C337.9 1447.2 338.4 1449.5 339.0 1451.8C339.5 1454.1 340.1 1456.3 340.8 1458.6C341.4 1460.8 342.1 1463.1 342.9 1465.3C343.6 1467.5 344.4 1469.7 345.2 1471.9C346.1 1474.1 346.9 1476.3 347.8 1478.5C348.7 1480.6 349.7 1482.8 350.6 1484.9C351.6 1487.1 352.6 1489.2 353.6 1491.3C354.7 1493.5 355.7 1495.6 356.8 1497.7C357.9 1499.8 359.0 1501.9 360.1 1504.0C361.2 1506.1 362.3 1508.2 363.5 1510.2C364.6 1512.3 365.8 1514.4 367.0 1516.4C368.1 1518.5 369.3 1520.5 370.5 1522.6C371.7 1524.6 372.9 1526.6 374.1 1528.7C375.3 1530.7 376.5 1532.7 377.7 1534.7C378.9 1536.8 380.1 1538.8 381.3 1540.8C382.5 1542.8 383.6 1544.8 384.8 1546.8C386.0 1548.8 387.2 1550.8 388.4 1552.8C389.6 1554.8 390.7 1556.8 391.9 1558.8C393.1 1560.8 394.2 1562.8 395.4 1564.9C396.5 1566.9 397.7 1568.9 398.8 1570.9C400.0 1572.9 401.1 1575.0 402.3 1577.0C403.4 1579.0 404.5 1581.1 405.6 1583.2C406.7 1585.2 407.8 1587.3 408.9 1589.4C410.0 1591.4 411.1 1593.5 412.2 1595.6C413.3 1597.7 414.9 1600.9 415.4 1602.0"/>
<path class="al" d="M222.6 1250.7 L287.2 1286.2"/>
<path class="ah" d="M289.8 1287.6 L276.0 1283.6 L279.0 1278.1 Z"/>
<path class="al" d="M222.6 1250.7 L265.2 1341.2"/>
<path class="ah" d="M266.5 1343.9 L257.7 1332.6 L263.3 1329.9 Z"/>
<path class="al" d="M222.6 1250.7 L222.6 1340.9"/>
<path class="ah" d="M222.6 1343.9 L219.5 1329.9 L225.7 1329.9 Z"/>
<path class="al" d="M222.6 1250.7 L197.3 1352.0"/>
<path class="ah" d="M196.6 1354.9 L197.0 1340.6 L203.0 1342.1 Z"/>
<path class="al" d="M571.8 1328.4 L549.6 1248.3"/>
<path class="ah" d="M548.8 1245.4 L555.5 1258.1 L549.6 1259.7 Z"/>
<path class="al" d="M571.8 1328.4 L499.7 1268.9"/>
<path class="ah" d="M497.4 1267.0 L510.2 1273.5 L506.2 1278.3 Z"/>
<path class="al" d="M571.8 1328.4 L382.7 1323.3"/>
<path class="ah" d="M379.7 1323.2 L393.8 1320.5 L393.6 1326.7 Z"/>
<path class="al" d="M571.8 1328.4 L370.8 1408.7"/>
<path class="ah" d="M368.0 1409.8 L379.9 1401.7 L382.2 1407.5 Z"/>
<path class="al" d="M372.0 1425.0 L400.5 1501.7"/>
<path class="ah" d="M401.5 1504.5 L393.7 1492.5 L399.5 1490.3 Z"/>
<text x="169.5" y="1239.5" font-size="22" textLength="100.5" lengthAdjust="spacingAndGlyphs" class="lb">桩顶自由</text>
<text x="580.0" y="1339.0" font-size="22" textLength="100.5" lengthAdjust="spacingAndGlyphs" class="lb">桩顶固支</text>
<path class="l0" d="M440.0 1395.5 H490.0"/>
<text x="496.2" y="1404.6" font-size="26" textLength="88.5" lengthAdjust="spacingAndGlyphs" class="lg">正斜桩</text>
<text x="584.2" y="1404.1" font-size="29" class="lgl">(</text>
<text x="593.7" y="1404.6" font-size="26" textLength="118.5" lengthAdjust="spacingAndGlyphs" class="lg">上拔荷载</text>
<text x="713.7" y="1405.6" font-size="29" textLength="50.5" lengthAdjust="spacingAndGlyphs" class="lgl">0.13</text>
<text x="775.2" y="1405.6" font-size="28" class="lgi">Q</text>
<text x="795.7" y="1406.6" font-size="16" class="lgu">u</text>
<text x="805.2" y="1403.6" font-size="29" class="lgl">)</text>
<path class="l1" d="M440.0 1428.0 H490.0"/>
<text x="496.2" y="1437.1" font-size="26" textLength="88.5" lengthAdjust="spacingAndGlyphs" class="lg">正斜桩</text>
<text x="584.2" y="1436.6" font-size="29" class="lgl">(</text>
<text x="593.7" y="1437.1" font-size="26" textLength="118.5" lengthAdjust="spacingAndGlyphs" class="lg">上拔荷载</text>
<text x="713.7" y="1438.1" font-size="29" textLength="50.5" lengthAdjust="spacingAndGlyphs" class="lgl">0.26</text>
<text x="775.2" y="1438.1" font-size="28" class="lgi">Q</text>
<text x="795.7" y="1439.1" font-size="16" class="lgu">u</text>
<text x="805.2" y="1436.1" font-size="29" class="lgl">)</text>
<path class="l2" d="M440.0 1461.2 H490.0"/>
<text x="496.2" y="1470.3" font-size="26" textLength="88.5" lengthAdjust="spacingAndGlyphs" class="lg">负斜桩</text>
<text x="584.2" y="1469.8" font-size="29" class="lgl">(</text>
<text x="593.7" y="1470.3" font-size="26" textLength="118.5" lengthAdjust="spacingAndGlyphs" class="lg">上拔荷载</text>
<text x="713.7" y="1471.3" font-size="29" textLength="50.5" lengthAdjust="spacingAndGlyphs" class="lgl">0.13</text>
<text x="775.2" y="1471.3" font-size="28" class="lgi">Q</text>
<text x="795.7" y="1472.3" font-size="16" class="lgu">u</text>
<text x="805.2" y="1469.3" font-size="29" class="lgl">)</text>
<path class="l3" d="M440.0 1492.8 H490.0"/>
<text x="496.2" y="1501.9" font-size="26" textLength="88.5" lengthAdjust="spacingAndGlyphs" class="lg">负斜桩</text>
<text x="584.2" y="1501.4" font-size="29" class="lgl">(</text>
<text x="593.7" y="1501.9" font-size="26" textLength="118.5" lengthAdjust="spacingAndGlyphs" class="lg">上拔荷载</text>
<text x="713.7" y="1502.9" font-size="29" textLength="50.5" lengthAdjust="spacingAndGlyphs" class="lgl">0.26</text>
<text x="775.2" y="1502.9" font-size="28" class="lgi">Q</text>
<text x="795.7" y="1503.9" font-size="16" class="lgu">u</text>
<text x="805.2" y="1500.9" font-size="29" class="lgl">)</text>
<text x="336.5" y="1686.0" font-size="29.5" textLength="119.5" lengthAdjust="spacingAndGlyphs" class="tt">桩身剪力</text>
<text x="455.5" y="1686.0" font-size="29" textLength="42.5" lengthAdjust="spacingAndGlyphs" class="ttl">/kN</text>
<text x="316.0" y="1735.0" font-size="30" class="cp">（</text>
<text x="352.5" y="1733.5" font-size="27" class="ttl">c</text>
<text x="371.5" y="1735.0" font-size="30" class="cp">）</text>
<text x="395.0" y="1735.0" font-size="29" textLength="118.0" lengthAdjust="spacingAndGlyphs" class="cp">桩身剪力</text>
</g>
</svg>
</body></html>
